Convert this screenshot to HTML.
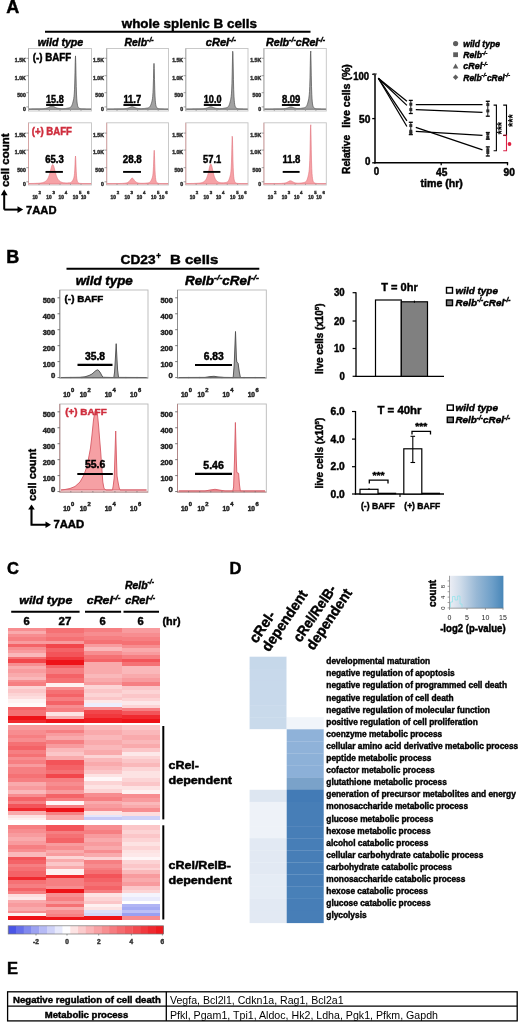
<!DOCTYPE html>
<html><head><meta charset="utf-8"><style>
html,body{margin:0;padding:0;background:#fff;}
svg{display:block;filter:blur(0.3px);font-family:"Liberation Sans", sans-serif;}
</style></head><body>
<svg width="520" height="1022" viewBox="0 0 520 1022">
<text x="6.3" y="12.9" font-size="18" fill="#000" font-weight="bold" stroke="#000" stroke-width="0.45" >A</text>
<text x="121.7" y="27.7" font-size="13.5" fill="#000" font-weight="bold" textLength="135.2" lengthAdjust="spacingAndGlyphs" stroke="#000" stroke-width="0.45" >whole splenic B cells</text>
<line x1="45" y1="31.7" x2="310.5" y2="31.7" stroke="#000" stroke-width="2" />
<text x="37.8" y="45.5" font-size="10.5" font-weight="bold" font-style="italic" stroke="#000" stroke-width="0.45" textLength="45.5" lengthAdjust="spacingAndGlyphs"><tspan>wild type</tspan></text>
<text x="124.6" y="46" font-size="10.5" font-weight="bold" font-style="italic" stroke="#000" stroke-width="0.45" textLength="29" lengthAdjust="spacingAndGlyphs"><tspan>Relb</tspan><tspan font-size="6.93" dy="-3.78">-/-</tspan></text>
<text x="205.8" y="46" font-size="10.5" font-weight="bold" font-style="italic" stroke="#000" stroke-width="0.45" textLength="30.2" lengthAdjust="spacingAndGlyphs"><tspan>cRel</tspan><tspan font-size="6.93" dy="-3.78">-/-</tspan></text>
<text x="266" y="46" font-size="10.5" font-weight="bold" font-style="italic" stroke="#000" stroke-width="0.45" textLength="59" lengthAdjust="spacingAndGlyphs"><tspan>Relb</tspan><tspan font-size="6.93" dy="-3.78">-/-</tspan><tspan dy="3.78">cRel</tspan><tspan font-size="6.93" dy="-3.78">-/-</tspan></text>
<rect x="28.5" y="48.5" width="63.0" height="62.5" fill="#fff" stroke="#c4c4c4" stroke-width="0.9" />
<path d="M29.00,109.30 L29.00,108.88 L29.25,108.88 L29.50,108.88 L29.75,108.88 L30.00,108.88 L30.25,108.88 L30.50,108.88 L30.75,108.88 L31.00,108.88 L31.25,108.88 L31.50,108.88 L31.75,108.87 L32.00,108.87 L32.25,108.87 L32.50,108.87 L32.75,108.87 L33.00,108.87 L33.25,108.87 L33.50,108.87 L33.75,108.87 L34.00,108.86 L34.25,108.86 L34.50,108.86 L34.75,108.86 L35.00,108.86 L35.25,108.86 L35.50,108.85 L35.75,108.85 L36.00,108.85 L36.25,108.85 L36.50,108.85 L36.75,108.84 L37.00,108.84 L37.25,108.84 L37.50,108.84 L37.75,108.83 L38.00,108.83 L38.25,108.82 L38.50,108.82 L38.75,108.82 L39.00,108.81 L39.25,108.81 L39.50,108.80 L39.75,108.80 L40.00,108.79 L40.25,108.79 L40.50,108.78 L40.75,108.77 L41.00,108.76 L41.25,108.76 L41.50,108.75 L41.75,108.74 L42.00,108.73 L42.25,108.71 L42.50,108.70 L42.75,108.69 L43.00,108.67 L43.25,108.66 L43.50,108.64 L43.75,108.62 L44.00,108.60 L44.25,108.58 L44.50,108.55 L44.75,108.52 L45.00,108.49 L45.25,108.46 L45.50,108.42 L45.75,108.38 L46.00,108.33 L46.25,108.28 L46.50,108.23 L46.75,108.17 L47.00,108.10 L47.25,108.03 L47.50,107.95 L47.75,107.86 L48.00,107.76 L48.25,107.65 L48.50,107.54 L48.75,107.42 L49.00,107.28 L49.25,107.14 L49.50,107.00 L49.75,106.84 L50.00,106.69 L50.25,106.54 L50.50,106.39 L50.75,106.26 L51.00,106.14 L51.25,106.04 L51.50,105.96 L51.75,105.91 L52.00,105.90 L52.25,105.91 L52.50,105.96 L52.75,106.04 L53.00,106.14 L53.25,106.26 L53.50,106.39 L53.75,106.54 L54.00,106.69 L54.25,106.84 L54.50,106.99 L54.75,107.14 L55.00,107.28 L55.25,107.41 L55.50,107.54 L55.75,107.65 L56.00,107.76 L56.25,107.86 L56.50,107.94 L56.75,108.02 L57.00,108.10 L57.25,108.16 L57.50,108.22 L57.75,108.28 L58.00,108.33 L58.25,108.37 L58.50,108.41 L58.75,108.45 L59.00,108.48 L59.25,108.51 L59.50,108.53 L59.75,108.56 L60.00,108.58 L60.25,108.59 L60.50,108.61 L60.75,108.62 L61.00,108.63 L61.25,108.64 L61.50,108.65 L61.75,108.65 L62.00,108.65 L62.25,108.65 L62.50,108.65 L62.75,108.65 L63.00,108.64 L63.25,108.63 L63.50,108.62 L63.75,108.61 L64.00,108.59 L64.25,108.58 L64.50,108.56 L64.75,108.53 L65.00,108.51 L65.25,108.48 L65.50,108.45 L65.75,108.42 L66.00,108.39 L66.25,108.35 L66.50,108.32 L66.75,108.28 L67.00,108.24 L67.25,108.20 L67.50,108.16 L67.75,108.11 L68.00,108.07 L68.25,108.02 L68.50,107.98 L68.75,107.93 L69.00,107.88 L69.25,107.82 L69.50,107.75 L69.75,107.67 L70.00,107.57 L70.25,107.44 L70.50,107.28 L70.75,107.07 L71.00,106.81 L71.25,106.48 L71.50,106.08 L71.75,105.60 L72.00,105.03 L72.25,104.38 L72.50,103.65 L72.75,102.85 L73.00,101.96 L73.25,100.98 L73.50,99.86 L73.75,98.51 L74.00,96.70 L74.25,94.04 L74.50,89.83 L74.75,83.00 L75.00,72.77 L75.25,61.21 L75.50,55.90 L75.75,62.43 L76.00,75.14 L76.25,86.39 L76.50,94.06 L76.75,98.91 L77.00,101.97 L77.25,103.97 L77.50,105.31 L77.75,106.24 L78.00,106.89 L78.25,107.36 L78.50,107.71 L78.75,107.96 L79.00,108.15 L79.25,108.29 L79.50,108.40 L79.75,108.48 L80.00,108.55 L80.25,108.60 L80.50,108.65 L80.75,108.68 L81.00,108.71 L81.25,108.73 L81.50,108.76 L81.75,108.77 L82.00,108.79 L82.25,108.80 L82.50,108.81 L82.75,108.82 L83.00,108.83 L83.25,108.84 L83.50,108.85 L83.75,108.85 L84.00,108.86 L84.25,108.86 L84.50,108.86 L84.75,108.87 L85.00,108.87 L85.25,108.87 L85.50,108.87 L85.75,108.88 L86.00,108.88 L86.25,108.88 L86.50,108.88 L86.75,108.88 L87.00,108.88 L87.25,108.88 L87.50,108.88 L87.75,108.89 L88.00,108.89 L88.25,108.89 L88.50,108.89 L88.75,108.89 L89.00,108.89 L89.25,108.89 L89.50,108.89 L89.75,108.89 L90.00,108.89 L90.25,108.89 L90.50,108.89 L90.75,108.89 L91.00,108.89 L91.00,109.30 Z" fill="#a2a2a2" stroke="#555" stroke-width="0.75"/>
<line x1="28.5" y1="48.5" x2="28.5" y2="111" stroke="#a8a8a8" stroke-width="0.9" />
<line x1="39.0" y1="109.8" x2="39.0" y2="111" stroke="#888" stroke-width="0.6" />
<line x1="49.5" y1="109.8" x2="49.5" y2="111" stroke="#888" stroke-width="0.6" />
<line x1="60.0" y1="109.8" x2="60.0" y2="111" stroke="#888" stroke-width="0.6" />
<line x1="70.5" y1="109.8" x2="70.5" y2="111" stroke="#888" stroke-width="0.6" />
<line x1="81.0" y1="109.8" x2="81.0" y2="111" stroke="#888" stroke-width="0.6" />
<line x1="26.3" y1="58.300000000000004" x2="28.5" y2="58.300000000000004" stroke="#777" stroke-width="0.7" />
<text x="25.8" y="62.1" font-size="5.2" fill="#333" font-weight="bold" text-anchor="end" stroke="#333" stroke-width="0.45" >1.5K</text>
<line x1="26.3" y1="75.69999999999999" x2="28.5" y2="75.69999999999999" stroke="#777" stroke-width="0.7" />
<text x="25.8" y="79.5" font-size="5.2" fill="#333" font-weight="bold" text-anchor="end" stroke="#333" stroke-width="0.45" >1.0K</text>
<line x1="26.3" y1="92.69999999999999" x2="28.5" y2="92.69999999999999" stroke="#777" stroke-width="0.7" />
<text x="25.8" y="96.5" font-size="5.2" fill="#333" font-weight="bold" text-anchor="end" stroke="#333" stroke-width="0.45" >500</text>
<line x1="26.3" y1="106.89999999999999" x2="28.5" y2="106.89999999999999" stroke="#777" stroke-width="0.7" />
<text x="25.8" y="110.7" font-size="5.2" fill="#333" font-weight="bold" text-anchor="end" stroke="#333" stroke-width="0.45" >0</text>
<text x="46.1" y="102.5" font-size="10.2" fill="#000" font-weight="bold" textLength="17.6" lengthAdjust="spacingAndGlyphs" stroke="#000" stroke-width="0.45" >15.8</text>
<line x1="46.1" y1="105" x2="63.2" y2="105" stroke="#000" stroke-width="1.9" />
<rect x="28.5" y="122.8" width="63.0" height="62.2" fill="#fff" stroke="#c4c4c4" stroke-width="0.9" />
<path d="M29.00,184.00 L29.00,183.51 L29.25,183.50 L29.50,183.50 L29.75,183.50 L30.00,183.49 L30.25,183.49 L30.50,183.49 L30.75,183.48 L31.00,183.48 L31.25,183.48 L31.50,183.47 L31.75,183.47 L32.00,183.46 L32.25,183.46 L32.50,183.45 L32.75,183.45 L33.00,183.44 L33.25,183.44 L33.50,183.43 L33.75,183.42 L34.00,183.42 L34.25,183.41 L34.50,183.40 L34.75,183.39 L35.00,183.38 L35.25,183.38 L35.50,183.37 L35.75,183.36 L36.00,183.35 L36.25,183.33 L36.50,183.32 L36.75,183.31 L37.00,183.30 L37.25,183.28 L37.50,183.27 L37.75,183.25 L38.00,183.24 L38.25,183.22 L38.50,183.20 L38.75,183.18 L39.00,183.16 L39.25,183.14 L39.50,183.11 L39.75,183.08 L40.00,183.06 L40.25,183.03 L40.50,182.99 L40.75,182.96 L41.00,182.92 L41.25,182.88 L41.50,182.84 L41.75,182.79 L42.00,182.74 L42.25,182.69 L42.50,182.63 L42.75,182.56 L43.00,182.49 L43.25,182.42 L43.50,182.33 L43.75,182.24 L44.00,182.15 L44.25,182.04 L44.50,181.92 L44.75,181.79 L45.00,181.65 L45.25,181.49 L45.50,181.32 L45.75,181.13 L46.00,180.93 L46.25,180.70 L46.50,180.44 L46.75,180.16 L47.00,179.85 L47.25,179.51 L47.50,179.13 L47.75,178.71 L48.00,178.25 L48.25,177.74 L48.50,177.17 L48.75,176.55 L49.00,175.88 L49.25,175.14 L49.50,174.34 L49.75,173.49 L50.00,172.58 L50.25,171.63 L50.50,170.64 L50.75,169.64 L51.00,168.66 L51.25,167.70 L51.50,166.82 L51.75,166.05 L52.00,165.41 L52.25,164.94 L52.50,164.67 L52.75,164.60 L53.00,164.75 L53.25,165.11 L53.50,165.64 L53.75,166.34 L54.00,167.16 L54.25,168.08 L54.50,169.05 L54.75,170.04 L55.00,171.04 L55.25,172.01 L55.50,172.95 L55.75,173.84 L56.00,174.67 L56.25,175.44 L56.50,176.15 L56.75,176.81 L57.00,177.40 L57.25,177.94 L57.50,178.44 L57.75,178.88 L58.00,179.28 L58.25,179.65 L58.50,179.98 L58.75,180.27 L59.00,180.54 L59.25,180.78 L59.50,181.00 L59.75,181.20 L60.00,181.38 L60.25,181.55 L60.50,181.69 L60.75,181.83 L61.00,181.95 L61.25,182.06 L61.50,182.16 L61.75,182.25 L62.00,182.33 L62.25,182.41 L62.50,182.47 L62.75,182.53 L63.00,182.59 L63.25,182.64 L63.50,182.68 L63.75,182.72 L64.00,182.75 L64.25,182.78 L64.50,182.81 L64.75,182.83 L65.00,182.85 L65.25,182.86 L65.50,182.88 L65.75,182.89 L66.00,182.89 L66.25,182.90 L66.50,182.90 L66.75,182.90 L67.00,182.90 L67.25,182.89 L67.50,182.89 L67.75,182.88 L68.00,182.87 L68.25,182.86 L68.50,182.85 L68.75,182.83 L69.00,182.82 L69.25,182.80 L69.50,182.77 L69.75,182.74 L70.00,182.70 L70.25,182.64 L70.50,182.56 L70.75,182.47 L71.00,182.34 L71.25,182.17 L71.50,181.97 L71.75,181.73 L72.00,181.44 L72.25,181.11 L72.50,180.73 L72.75,180.32 L73.00,179.87 L73.25,179.36 L73.50,178.79 L73.75,178.09 L74.00,177.15 L74.25,175.78 L74.50,173.60 L74.75,170.06 L75.00,164.75 L75.25,158.76 L75.50,156.00 L75.75,159.40 L76.00,165.99 L76.25,171.83 L76.50,175.82 L76.75,178.33 L77.00,179.93 L77.25,180.96 L77.50,181.66 L77.75,182.15 L78.00,182.49 L78.25,182.73 L78.50,182.91 L78.75,183.05 L79.00,183.15 L79.25,183.22 L79.50,183.28 L79.75,183.33 L80.00,183.36 L80.25,183.39 L80.50,183.41 L80.75,183.43 L81.00,183.45 L81.25,183.46 L81.50,183.48 L81.75,183.49 L82.00,183.50 L82.25,183.50 L82.50,183.51 L82.75,183.52 L83.00,183.52 L83.25,183.53 L83.50,183.53 L83.75,183.54 L84.00,183.54 L84.25,183.54 L84.50,183.55 L84.75,183.55 L85.00,183.55 L85.25,183.55 L85.50,183.55 L85.75,183.56 L86.00,183.56 L86.25,183.56 L86.50,183.56 L86.75,183.56 L87.00,183.56 L87.25,183.56 L87.50,183.56 L87.75,183.57 L88.00,183.57 L88.25,183.57 L88.50,183.57 L88.75,183.57 L89.00,183.57 L89.25,183.57 L89.50,183.57 L89.75,183.57 L90.00,183.57 L90.25,183.57 L90.50,183.57 L90.75,183.57 L91.00,183.58 L91.00,184.00 Z" fill="#f6a2a6" stroke="#e0707a" stroke-width="0.6"/>
<line x1="28.5" y1="122.8" x2="28.5" y2="185" stroke="#d8a0a0" stroke-width="0.9" />
<line x1="39.0" y1="183.8" x2="39.0" y2="185" stroke="#888" stroke-width="0.6" />
<line x1="49.5" y1="183.8" x2="49.5" y2="185" stroke="#888" stroke-width="0.6" />
<line x1="60.0" y1="183.8" x2="60.0" y2="185" stroke="#888" stroke-width="0.6" />
<line x1="70.5" y1="183.8" x2="70.5" y2="185" stroke="#888" stroke-width="0.6" />
<line x1="81.0" y1="183.8" x2="81.0" y2="185" stroke="#888" stroke-width="0.6" />
<line x1="26.3" y1="133.1" x2="28.5" y2="133.1" stroke="#777" stroke-width="0.7" />
<text x="25.8" y="136.9" font-size="5.2" fill="#333" font-weight="bold" text-anchor="end" stroke="#333" stroke-width="0.45" >1.5K</text>
<line x1="26.3" y1="150.1" x2="28.5" y2="150.1" stroke="#777" stroke-width="0.7" />
<text x="25.8" y="153.9" font-size="5.2" fill="#333" font-weight="bold" text-anchor="end" stroke="#333" stroke-width="0.45" >1.0K</text>
<line x1="26.3" y1="167.7" x2="28.5" y2="167.7" stroke="#777" stroke-width="0.7" />
<text x="25.8" y="171.5" font-size="5.2" fill="#333" font-weight="bold" text-anchor="end" stroke="#333" stroke-width="0.45" >500</text>
<line x1="26.3" y1="181.79999999999998" x2="28.5" y2="181.79999999999998" stroke="#777" stroke-width="0.7" />
<text x="25.8" y="185.6" font-size="5.2" fill="#333" font-weight="bold" text-anchor="end" stroke="#333" stroke-width="0.45" >0</text>
<text x="45.2" y="163" font-size="10.2" fill="#000" font-weight="bold" textLength="18.5" lengthAdjust="spacingAndGlyphs" stroke="#000" stroke-width="0.45" >65.3</text>
<line x1="45.5" y1="171.9" x2="62.900000000000006" y2="171.9" stroke="#000" stroke-width="1.9" />
<text x="32.4" y="198.5" font-size="5.2" fill="#333" font-weight="bold" textLength="5.4" lengthAdjust="spacingAndGlyphs" stroke="#333" stroke-width="0.45" >10</text>
<text x="38.5" y="193.9" font-size="4.4" fill="#333" font-weight="bold" stroke="#333" stroke-width="0.45" >2</text>
<text x="46.3" y="198.5" font-size="5.2" fill="#333" font-weight="bold" textLength="5.4" lengthAdjust="spacingAndGlyphs" stroke="#333" stroke-width="0.45" >10</text>
<text x="52.4" y="193.9" font-size="4.4" fill="#333" font-weight="bold" stroke="#333" stroke-width="0.45" >3</text>
<text x="58.6" y="198.5" font-size="5.2" fill="#333" font-weight="bold" textLength="5.4" lengthAdjust="spacingAndGlyphs" stroke="#333" stroke-width="0.45" >10</text>
<text x="64.7" y="193.9" font-size="4.4" fill="#333" font-weight="bold" stroke="#333" stroke-width="0.45" >4</text>
<text x="72.8" y="198.5" font-size="5.2" fill="#333" font-weight="bold" textLength="5.4" lengthAdjust="spacingAndGlyphs" stroke="#333" stroke-width="0.45" >10</text>
<text x="78.89999999999999" y="193.9" font-size="4.4" fill="#333" font-weight="bold" stroke="#333" stroke-width="0.45" >5</text>
<text x="80.9" y="198.5" font-size="5.2" fill="#333" font-weight="bold" textLength="5.4" lengthAdjust="spacingAndGlyphs" stroke="#333" stroke-width="0.45" >10</text>
<text x="87.0" y="193.9" font-size="4.4" fill="#333" font-weight="bold" stroke="#333" stroke-width="0.45" >6</text>
<rect x="106.7" y="48.5" width="61.8" height="62.5" fill="#fff" stroke="#c4c4c4" stroke-width="0.9" />
<path d="M107.20,109.30 L107.20,108.89 L107.45,108.89 L107.70,108.89 L107.95,108.89 L108.20,108.89 L108.45,108.89 L108.70,108.89 L108.95,108.89 L109.20,108.89 L109.45,108.89 L109.70,108.89 L109.95,108.89 L110.20,108.89 L110.45,108.88 L110.70,108.88 L110.95,108.88 L111.20,108.88 L111.45,108.88 L111.70,108.88 L111.95,108.88 L112.20,108.88 L112.45,108.88 L112.70,108.88 L112.95,108.88 L113.20,108.88 L113.46,108.88 L113.71,108.88 L113.96,108.87 L114.21,108.87 L114.46,108.87 L114.71,108.87 L114.96,108.87 L115.21,108.87 L115.46,108.87 L115.71,108.87 L115.96,108.87 L116.21,108.86 L116.46,108.86 L116.71,108.86 L116.96,108.86 L117.21,108.86 L117.46,108.85 L117.71,108.85 L117.96,108.85 L118.21,108.85 L118.46,108.84 L118.71,108.84 L118.96,108.84 L119.21,108.84 L119.46,108.83 L119.71,108.83 L119.96,108.82 L120.21,108.82 L120.46,108.82 L120.71,108.81 L120.96,108.81 L121.21,108.80 L121.46,108.79 L121.71,108.79 L121.96,108.78 L122.21,108.77 L122.46,108.76 L122.71,108.75 L122.96,108.74 L123.21,108.73 L123.46,108.72 L123.71,108.71 L123.96,108.69 L124.21,108.68 L124.46,108.66 L124.71,108.64 L124.96,108.62 L125.21,108.60 L125.47,108.57 L125.72,108.55 L125.97,108.52 L126.22,108.48 L126.47,108.45 L126.72,108.40 L126.97,108.36 L127.22,108.31 L127.47,108.26 L127.72,108.20 L127.97,108.13 L128.22,108.06 L128.47,107.98 L128.72,107.90 L128.97,107.80 L129.22,107.71 L129.47,107.60 L129.72,107.50 L129.97,107.38 L130.22,107.27 L130.47,107.16 L130.72,107.05 L130.97,106.95 L131.22,106.87 L131.47,106.79 L131.72,106.74 L131.97,106.71 L132.22,106.70 L132.47,106.71 L132.72,106.75 L132.97,106.81 L133.22,106.88 L133.47,106.97 L133.72,107.07 L133.97,107.18 L134.22,107.29 L134.47,107.40 L134.72,107.51 L134.97,107.62 L135.22,107.72 L135.47,107.82 L135.72,107.91 L135.97,107.99 L136.22,108.07 L136.47,108.14 L136.72,108.20 L136.97,108.26 L137.22,108.31 L137.47,108.36 L137.73,108.40 L137.98,108.44 L138.23,108.47 L138.48,108.50 L138.73,108.53 L138.98,108.55 L139.23,108.57 L139.48,108.59 L139.73,108.61 L139.98,108.62 L140.23,108.63 L140.48,108.64 L140.73,108.64 L140.98,108.64 L141.23,108.64 L141.48,108.64 L141.73,108.64 L141.98,108.63 L142.23,108.62 L142.48,108.61 L142.73,108.60 L142.98,108.59 L143.23,108.57 L143.48,108.55 L143.73,108.53 L143.98,108.50 L144.23,108.48 L144.48,108.45 L144.73,108.42 L144.98,108.39 L145.23,108.36 L145.48,108.33 L145.73,108.29 L145.98,108.26 L146.23,108.22 L146.48,108.18 L146.73,108.14 L146.98,108.10 L147.23,108.06 L147.48,108.02 L147.73,107.97 L147.98,107.91 L148.23,107.84 L148.48,107.76 L148.73,107.65 L148.98,107.52 L149.23,107.34 L149.48,107.12 L149.73,106.84 L149.99,106.50 L150.24,106.09 L150.49,105.61 L150.74,105.05 L150.99,104.43 L151.24,103.74 L151.49,102.98 L151.74,102.15 L151.99,101.20 L152.24,100.04 L152.49,98.52 L152.74,96.28 L152.99,92.75 L153.24,87.02 L153.49,78.36 L153.74,68.37 L153.99,63.38 L154.24,68.57 L154.49,79.43 L154.74,89.22 L154.99,95.93 L155.24,100.18 L155.49,102.87 L155.74,104.61 L155.99,105.78 L156.24,106.59 L156.49,107.16 L156.74,107.57 L156.99,107.87 L157.24,108.09 L157.49,108.25 L157.74,108.37 L157.99,108.47 L158.24,108.54 L158.49,108.60 L158.74,108.64 L158.99,108.68 L159.24,108.71 L159.49,108.74 L159.74,108.76 L159.99,108.78 L160.24,108.79 L160.49,108.80 L160.74,108.82 L160.99,108.83 L161.24,108.83 L161.49,108.84 L161.74,108.85 L162.00,108.85 L162.25,108.86 L162.50,108.86 L162.75,108.87 L163.00,108.87 L163.25,108.87 L163.50,108.87 L163.75,108.88 L164.00,108.88 L164.25,108.88 L164.50,108.88 L164.75,108.88 L165.00,108.88 L165.25,108.88 L165.50,108.89 L165.75,108.89 L166.00,108.89 L166.25,108.89 L166.50,108.89 L166.75,108.89 L167.00,108.89 L167.25,108.89 L167.50,108.89 L167.75,108.89 L168.00,108.89 L168.00,109.30 Z" fill="#a2a2a2" stroke="#555" stroke-width="0.75"/>
<line x1="106.7" y1="48.5" x2="106.7" y2="111" stroke="#a8a8a8" stroke-width="0.9" />
<line x1="117.0" y1="109.8" x2="117.0" y2="111" stroke="#888" stroke-width="0.6" />
<line x1="127.3" y1="109.8" x2="127.3" y2="111" stroke="#888" stroke-width="0.6" />
<line x1="137.6" y1="109.8" x2="137.6" y2="111" stroke="#888" stroke-width="0.6" />
<line x1="147.9" y1="109.8" x2="147.9" y2="111" stroke="#888" stroke-width="0.6" />
<line x1="158.2" y1="109.8" x2="158.2" y2="111" stroke="#888" stroke-width="0.6" />
<line x1="104.5" y1="58.300000000000004" x2="106.7" y2="58.300000000000004" stroke="#777" stroke-width="0.7" />
<text x="104.0" y="62.1" font-size="5.2" fill="#333" font-weight="bold" text-anchor="end" stroke="#333" stroke-width="0.45" >1.5K</text>
<line x1="104.5" y1="75.69999999999999" x2="106.7" y2="75.69999999999999" stroke="#777" stroke-width="0.7" />
<text x="104.0" y="79.5" font-size="5.2" fill="#333" font-weight="bold" text-anchor="end" stroke="#333" stroke-width="0.45" >1.0K</text>
<line x1="104.5" y1="92.69999999999999" x2="106.7" y2="92.69999999999999" stroke="#777" stroke-width="0.7" />
<text x="104.0" y="96.5" font-size="5.2" fill="#333" font-weight="bold" text-anchor="end" stroke="#333" stroke-width="0.45" >500</text>
<line x1="104.5" y1="106.89999999999999" x2="106.7" y2="106.89999999999999" stroke="#777" stroke-width="0.7" />
<text x="104.0" y="110.7" font-size="5.2" fill="#333" font-weight="bold" text-anchor="end" stroke="#333" stroke-width="0.45" >0</text>
<text x="123.4" y="102.5" font-size="10.2" fill="#000" font-weight="bold" textLength="17.799999999999983" lengthAdjust="spacingAndGlyphs" stroke="#000" stroke-width="0.45" >11.7</text>
<line x1="123.4" y1="105" x2="140.7" y2="105" stroke="#000" stroke-width="1.9" />
<rect x="106.7" y="122.8" width="61.8" height="62.2" fill="#fff" stroke="#c4c4c4" stroke-width="0.9" />
<path d="M107.20,184.00 L107.20,183.59 L107.45,183.59 L107.70,183.59 L107.95,183.59 L108.20,183.59 L108.45,183.58 L108.70,183.58 L108.95,183.58 L109.20,183.58 L109.45,183.58 L109.70,183.58 L109.95,183.58 L110.20,183.58 L110.45,183.58 L110.70,183.58 L110.95,183.58 L111.20,183.58 L111.45,183.58 L111.70,183.58 L111.95,183.58 L112.20,183.57 L112.45,183.57 L112.70,183.57 L112.95,183.57 L113.20,183.57 L113.46,183.57 L113.71,183.57 L113.96,183.57 L114.21,183.57 L114.46,183.56 L114.71,183.56 L114.96,183.56 L115.21,183.56 L115.46,183.56 L115.71,183.56 L115.96,183.55 L116.21,183.55 L116.46,183.55 L116.71,183.55 L116.96,183.54 L117.21,183.54 L117.46,183.54 L117.71,183.54 L117.96,183.53 L118.21,183.53 L118.46,183.53 L118.71,183.52 L118.96,183.52 L119.21,183.51 L119.46,183.51 L119.71,183.50 L119.96,183.50 L120.21,183.49 L120.46,183.49 L120.71,183.48 L120.96,183.47 L121.21,183.46 L121.46,183.45 L121.71,183.44 L121.96,183.43 L122.21,183.42 L122.46,183.41 L122.71,183.40 L122.96,183.38 L123.21,183.36 L123.46,183.35 L123.71,183.33 L123.96,183.30 L124.21,183.28 L124.46,183.25 L124.71,183.22 L124.96,183.19 L125.21,183.15 L125.47,183.11 L125.72,183.06 L125.97,183.01 L126.22,182.95 L126.47,182.89 L126.72,182.82 L126.97,182.73 L127.22,182.64 L127.47,182.53 L127.72,182.41 L127.97,182.28 L128.22,182.12 L128.47,181.95 L128.72,181.76 L128.97,181.54 L129.22,181.30 L129.47,181.03 L129.72,180.74 L129.97,180.42 L130.22,180.08 L130.47,179.74 L130.72,179.38 L130.97,179.05 L131.22,178.73 L131.47,178.47 L131.72,178.26 L131.97,178.14 L132.22,178.10 L132.47,178.15 L132.72,178.29 L132.97,178.51 L133.22,178.78 L133.47,179.10 L133.72,179.44 L133.97,179.79 L134.22,180.14 L134.47,180.47 L134.72,180.79 L134.97,181.07 L135.22,181.34 L135.47,181.58 L135.72,181.79 L135.97,181.98 L136.22,182.15 L136.47,182.30 L136.72,182.43 L136.97,182.55 L137.22,182.65 L137.47,182.74 L137.73,182.82 L137.98,182.89 L138.23,182.95 L138.48,183.01 L138.73,183.06 L138.98,183.10 L139.23,183.14 L139.48,183.17 L139.73,183.20 L139.98,183.23 L140.23,183.25 L140.48,183.27 L140.73,183.28 L140.98,183.30 L141.23,183.31 L141.48,183.31 L141.73,183.32 L141.98,183.32 L142.23,183.32 L142.48,183.32 L142.73,183.32 L142.98,183.31 L143.23,183.31 L143.48,183.30 L143.73,183.29 L143.98,183.27 L144.23,183.26 L144.48,183.24 L144.73,183.22 L144.98,183.20 L145.23,183.18 L145.48,183.16 L145.73,183.14 L145.98,183.12 L146.23,183.09 L146.48,183.07 L146.73,183.04 L146.98,183.01 L147.23,182.98 L147.48,182.95 L147.73,182.92 L147.98,182.89 L148.23,182.84 L148.48,182.79 L148.73,182.73 L148.98,182.65 L149.23,182.54 L149.48,182.41 L149.73,182.24 L149.99,182.02 L150.24,181.76 L150.49,181.45 L150.74,181.09 L150.99,180.67 L151.24,180.20 L151.49,179.68 L151.74,179.11 L151.99,178.48 L152.24,177.76 L152.49,176.87 L152.74,175.67 L152.99,173.88 L153.24,171.01 L153.49,166.38 L153.74,159.61 L153.99,152.52 L154.24,150.25 L154.49,155.37 L154.74,163.50 L154.99,170.27 L155.24,174.80 L155.49,177.65 L155.74,179.45 L155.99,180.63 L156.24,181.43 L156.49,181.99 L156.74,182.38 L156.99,182.66 L157.24,182.87 L157.49,183.02 L157.74,183.14 L157.99,183.22 L158.24,183.29 L158.49,183.34 L158.74,183.38 L158.99,183.41 L159.24,183.44 L159.49,183.46 L159.74,183.48 L159.99,183.49 L160.24,183.51 L160.49,183.52 L160.74,183.53 L160.99,183.54 L161.24,183.54 L161.49,183.55 L161.74,183.55 L162.00,183.56 L162.25,183.56 L162.50,183.57 L162.75,183.57 L163.00,183.57 L163.25,183.57 L163.50,183.58 L163.75,183.58 L164.00,183.58 L164.25,183.58 L164.50,183.58 L164.75,183.58 L165.00,183.58 L165.25,183.59 L165.50,183.59 L165.75,183.59 L166.00,183.59 L166.25,183.59 L166.50,183.59 L166.75,183.59 L167.00,183.59 L167.25,183.59 L167.50,183.59 L167.75,183.59 L168.00,183.59 L168.00,184.00 Z" fill="#f6a2a6" stroke="#e0707a" stroke-width="0.6"/>
<line x1="106.7" y1="122.8" x2="106.7" y2="185" stroke="#d8a0a0" stroke-width="0.9" />
<line x1="117.0" y1="183.8" x2="117.0" y2="185" stroke="#888" stroke-width="0.6" />
<line x1="127.3" y1="183.8" x2="127.3" y2="185" stroke="#888" stroke-width="0.6" />
<line x1="137.6" y1="183.8" x2="137.6" y2="185" stroke="#888" stroke-width="0.6" />
<line x1="147.9" y1="183.8" x2="147.9" y2="185" stroke="#888" stroke-width="0.6" />
<line x1="158.2" y1="183.8" x2="158.2" y2="185" stroke="#888" stroke-width="0.6" />
<line x1="104.5" y1="133.1" x2="106.7" y2="133.1" stroke="#777" stroke-width="0.7" />
<text x="104.0" y="136.9" font-size="5.2" fill="#333" font-weight="bold" text-anchor="end" stroke="#333" stroke-width="0.45" >1.5K</text>
<line x1="104.5" y1="150.1" x2="106.7" y2="150.1" stroke="#777" stroke-width="0.7" />
<text x="104.0" y="153.9" font-size="5.2" fill="#333" font-weight="bold" text-anchor="end" stroke="#333" stroke-width="0.45" >1.0K</text>
<line x1="104.5" y1="167.7" x2="106.7" y2="167.7" stroke="#777" stroke-width="0.7" />
<text x="104.0" y="171.5" font-size="5.2" fill="#333" font-weight="bold" text-anchor="end" stroke="#333" stroke-width="0.45" >500</text>
<line x1="104.5" y1="181.79999999999998" x2="106.7" y2="181.79999999999998" stroke="#777" stroke-width="0.7" />
<text x="104.0" y="185.6" font-size="5.2" fill="#333" font-weight="bold" text-anchor="end" stroke="#333" stroke-width="0.45" >0</text>
<text x="122.8" y="163" font-size="10.2" fill="#000" font-weight="bold" textLength="19.000000000000014" lengthAdjust="spacingAndGlyphs" stroke="#000" stroke-width="0.45" >28.8</text>
<line x1="123.1" y1="171.9" x2="141.0" y2="171.9" stroke="#000" stroke-width="1.9" />
<text x="110.60000000000001" y="198.5" font-size="5.2" fill="#333" font-weight="bold" textLength="5.4" lengthAdjust="spacingAndGlyphs" stroke="#333" stroke-width="0.45" >10</text>
<text x="116.7" y="193.9" font-size="4.4" fill="#333" font-weight="bold" stroke="#333" stroke-width="0.45" >2</text>
<text x="124.5" y="198.5" font-size="5.2" fill="#333" font-weight="bold" textLength="5.4" lengthAdjust="spacingAndGlyphs" stroke="#333" stroke-width="0.45" >10</text>
<text x="130.6" y="193.9" font-size="4.4" fill="#333" font-weight="bold" stroke="#333" stroke-width="0.45" >3</text>
<text x="136.8" y="198.5" font-size="5.2" fill="#333" font-weight="bold" textLength="5.4" lengthAdjust="spacingAndGlyphs" stroke="#333" stroke-width="0.45" >10</text>
<text x="142.9" y="193.9" font-size="4.4" fill="#333" font-weight="bold" stroke="#333" stroke-width="0.45" >4</text>
<text x="151.0" y="198.5" font-size="5.2" fill="#333" font-weight="bold" textLength="5.4" lengthAdjust="spacingAndGlyphs" stroke="#333" stroke-width="0.45" >10</text>
<text x="157.1" y="193.9" font-size="4.4" fill="#333" font-weight="bold" stroke="#333" stroke-width="0.45" >5</text>
<text x="159.1" y="198.5" font-size="5.2" fill="#333" font-weight="bold" textLength="5.4" lengthAdjust="spacingAndGlyphs" stroke="#333" stroke-width="0.45" >10</text>
<text x="165.2" y="193.9" font-size="4.4" fill="#333" font-weight="bold" stroke="#333" stroke-width="0.45" >6</text>
<rect x="185.8" y="48.5" width="62.19999999999999" height="62.5" fill="#fff" stroke="#c4c4c4" stroke-width="0.9" />
<path d="M186.30,109.30 L186.30,108.89 L186.55,108.89 L186.80,108.89 L187.05,108.89 L187.30,108.89 L187.55,108.89 L187.80,108.89 L188.06,108.89 L188.31,108.89 L188.56,108.89 L188.81,108.89 L189.06,108.88 L189.31,108.88 L189.56,108.88 L189.81,108.88 L190.06,108.88 L190.31,108.88 L190.56,108.88 L190.81,108.88 L191.07,108.88 L191.32,108.88 L191.57,108.88 L191.82,108.88 L192.07,108.88 L192.32,108.88 L192.57,108.87 L192.82,108.87 L193.07,108.87 L193.32,108.87 L193.57,108.87 L193.82,108.87 L194.08,108.87 L194.33,108.87 L194.58,108.87 L194.83,108.86 L195.08,108.86 L195.33,108.86 L195.58,108.86 L195.83,108.86 L196.08,108.85 L196.33,108.85 L196.58,108.85 L196.83,108.85 L197.09,108.84 L197.34,108.84 L197.59,108.84 L197.84,108.84 L198.09,108.83 L198.34,108.83 L198.59,108.82 L198.84,108.82 L199.09,108.81 L199.34,108.81 L199.59,108.80 L199.84,108.80 L200.10,108.79 L200.35,108.79 L200.60,108.78 L200.85,108.77 L201.10,108.76 L201.35,108.75 L201.60,108.74 L201.85,108.73 L202.10,108.72 L202.35,108.71 L202.60,108.69 L202.85,108.67 L203.10,108.66 L203.36,108.64 L203.61,108.62 L203.86,108.59 L204.11,108.57 L204.36,108.54 L204.61,108.51 L204.86,108.48 L205.11,108.44 L205.36,108.40 L205.61,108.35 L205.86,108.30 L206.11,108.24 L206.37,108.18 L206.62,108.12 L206.87,108.04 L207.12,107.96 L207.37,107.88 L207.62,107.78 L207.87,107.69 L208.12,107.58 L208.37,107.47 L208.62,107.36 L208.87,107.25 L209.12,107.14 L209.38,107.03 L209.63,106.93 L209.88,106.85 L210.13,106.78 L210.38,106.73 L210.63,106.70 L210.88,106.70 L211.13,106.72 L211.38,106.76 L211.63,106.82 L211.88,106.90 L212.13,106.99 L212.39,107.10 L212.64,107.21 L212.89,107.32 L213.14,107.43 L213.39,107.54 L213.64,107.65 L213.89,107.75 L214.14,107.84 L214.39,107.93 L214.64,108.01 L214.89,108.09 L215.14,108.15 L215.40,108.22 L215.65,108.27 L215.90,108.32 L216.15,108.37 L216.40,108.41 L216.65,108.45 L216.90,108.48 L217.15,108.51 L217.40,108.53 L217.65,108.56 L217.90,108.58 L218.15,108.59 L218.40,108.60 L218.66,108.62 L218.91,108.62 L219.16,108.63 L219.41,108.63 L219.66,108.63 L219.91,108.63 L220.16,108.62 L220.41,108.62 L220.66,108.61 L220.91,108.59 L221.16,108.58 L221.41,108.56 L221.67,108.54 L221.92,108.52 L222.17,108.49 L222.42,108.46 L222.67,108.43 L222.92,108.40 L223.17,108.36 L223.42,108.32 L223.67,108.29 L223.92,108.24 L224.17,108.20 L224.42,108.15 L224.68,108.11 L224.93,108.06 L225.18,108.01 L225.43,107.96 L225.68,107.91 L225.93,107.86 L226.18,107.80 L226.43,107.74 L226.68,107.67 L226.93,107.59 L227.18,107.49 L227.43,107.37 L227.69,107.21 L227.94,107.00 L228.19,106.74 L228.44,106.41 L228.69,106.00 L228.94,105.51 L229.19,104.92 L229.44,104.24 L229.69,103.47 L229.94,102.61 L230.19,101.67 L230.44,100.63 L230.70,99.47 L230.95,98.10 L231.20,96.34 L231.45,93.86 L231.70,90.02 L231.95,83.79 L232.20,73.97 L232.45,61.09 L232.70,51.24 L232.95,53.41 L233.20,66.07 L233.45,79.75 L233.70,89.74 L233.96,96.14 L234.21,100.17 L234.46,102.75 L234.71,104.46 L234.96,105.63 L235.21,106.45 L235.46,107.04 L235.71,107.47 L235.96,107.78 L236.21,108.01 L236.46,108.18 L236.71,108.31 L236.97,108.41 L237.22,108.49 L237.47,108.56 L237.72,108.61 L237.97,108.65 L238.22,108.68 L238.47,108.71 L238.72,108.74 L238.97,108.76 L239.22,108.77 L239.47,108.79 L239.72,108.80 L239.98,108.81 L240.23,108.82 L240.48,108.83 L240.73,108.84 L240.98,108.85 L241.23,108.85 L241.48,108.86 L241.73,108.86 L241.98,108.86 L242.23,108.87 L242.48,108.87 L242.73,108.87 L242.99,108.87 L243.24,108.88 L243.49,108.88 L243.74,108.88 L243.99,108.88 L244.24,108.88 L244.49,108.88 L244.74,108.88 L244.99,108.89 L245.24,108.89 L245.49,108.89 L245.74,108.89 L246.00,108.89 L246.25,108.89 L246.50,108.89 L246.75,108.89 L247.00,108.89 L247.25,108.89 L247.50,108.89 L247.50,109.30 Z" fill="#a2a2a2" stroke="#555" stroke-width="0.75"/>
<line x1="185.8" y1="48.5" x2="185.8" y2="111" stroke="#a8a8a8" stroke-width="0.9" />
<line x1="196.16666666666669" y1="109.8" x2="196.16666666666669" y2="111" stroke="#888" stroke-width="0.6" />
<line x1="206.53333333333333" y1="109.8" x2="206.53333333333333" y2="111" stroke="#888" stroke-width="0.6" />
<line x1="216.9" y1="109.8" x2="216.9" y2="111" stroke="#888" stroke-width="0.6" />
<line x1="227.26666666666668" y1="109.8" x2="227.26666666666668" y2="111" stroke="#888" stroke-width="0.6" />
<line x1="237.63333333333333" y1="109.8" x2="237.63333333333333" y2="111" stroke="#888" stroke-width="0.6" />
<line x1="183.60000000000002" y1="58.300000000000004" x2="185.8" y2="58.300000000000004" stroke="#777" stroke-width="0.7" />
<text x="183.10000000000002" y="62.1" font-size="5.2" fill="#333" font-weight="bold" text-anchor="end" stroke="#333" stroke-width="0.45" >1.5K</text>
<line x1="183.60000000000002" y1="75.69999999999999" x2="185.8" y2="75.69999999999999" stroke="#777" stroke-width="0.7" />
<text x="183.10000000000002" y="79.5" font-size="5.2" fill="#333" font-weight="bold" text-anchor="end" stroke="#333" stroke-width="0.45" >1.0K</text>
<line x1="183.60000000000002" y1="92.69999999999999" x2="185.8" y2="92.69999999999999" stroke="#777" stroke-width="0.7" />
<text x="183.10000000000002" y="96.5" font-size="5.2" fill="#333" font-weight="bold" text-anchor="end" stroke="#333" stroke-width="0.45" >500</text>
<line x1="183.60000000000002" y1="106.89999999999999" x2="185.8" y2="106.89999999999999" stroke="#777" stroke-width="0.7" />
<text x="183.10000000000002" y="110.7" font-size="5.2" fill="#333" font-weight="bold" text-anchor="end" stroke="#333" stroke-width="0.45" >0</text>
<text x="203.8" y="102.5" font-size="10.2" fill="#000" font-weight="bold" textLength="17.69999999999999" lengthAdjust="spacingAndGlyphs" stroke="#000" stroke-width="0.45" >10.0</text>
<line x1="203.8" y1="105" x2="221.0" y2="105" stroke="#000" stroke-width="1.9" />
<rect x="185.8" y="122.8" width="62.19999999999999" height="62.2" fill="#fff" stroke="#c4c4c4" stroke-width="0.9" />
<path d="M186.30,184.00 L186.30,183.54 L186.55,183.54 L186.80,183.54 L187.05,183.53 L187.30,183.53 L187.55,183.53 L187.80,183.53 L188.06,183.53 L188.31,183.52 L188.56,183.52 L188.81,183.52 L189.06,183.51 L189.31,183.51 L189.56,183.51 L189.81,183.51 L190.06,183.50 L190.31,183.50 L190.56,183.50 L190.81,183.49 L191.07,183.49 L191.32,183.48 L191.57,183.48 L191.82,183.47 L192.07,183.47 L192.32,183.46 L192.57,183.46 L192.82,183.45 L193.07,183.45 L193.32,183.44 L193.57,183.43 L193.82,183.43 L194.08,183.42 L194.33,183.41 L194.58,183.40 L194.83,183.39 L195.08,183.38 L195.33,183.37 L195.58,183.36 L195.83,183.35 L196.08,183.34 L196.33,183.33 L196.58,183.31 L196.83,183.30 L197.09,183.28 L197.34,183.26 L197.59,183.25 L197.84,183.23 L198.09,183.21 L198.34,183.18 L198.59,183.16 L198.84,183.13 L199.09,183.10 L199.34,183.07 L199.59,183.04 L199.84,183.01 L200.10,182.97 L200.35,182.93 L200.60,182.88 L200.85,182.83 L201.10,182.78 L201.35,182.72 L201.60,182.66 L201.85,182.59 L202.10,182.51 L202.35,182.42 L202.60,182.33 L202.85,182.23 L203.10,182.12 L203.36,181.99 L203.61,181.85 L203.86,181.70 L204.11,181.53 L204.36,181.33 L204.61,181.12 L204.86,180.88 L205.11,180.62 L205.36,180.32 L205.61,179.98 L205.86,179.61 L206.11,179.19 L206.37,178.72 L206.62,178.19 L206.87,177.60 L207.12,176.94 L207.37,176.20 L207.62,175.39 L207.87,174.50 L208.12,173.53 L208.37,172.49 L208.62,171.38 L208.87,170.23 L209.12,169.07 L209.38,167.92 L209.63,166.84 L209.88,165.87 L210.13,165.08 L210.38,164.49 L210.63,164.16 L210.88,164.11 L211.13,164.34 L211.38,164.84 L211.63,165.56 L211.88,166.48 L212.13,167.52 L212.39,168.65 L212.64,169.81 L212.89,170.97 L213.14,172.09 L213.39,173.16 L213.64,174.16 L213.89,175.08 L214.14,175.92 L214.39,176.68 L214.64,177.36 L214.89,177.98 L215.14,178.53 L215.40,179.02 L215.65,179.45 L215.90,179.84 L216.15,180.19 L216.40,180.50 L216.65,180.77 L216.90,181.02 L217.15,181.24 L217.40,181.43 L217.65,181.61 L217.90,181.76 L218.15,181.90 L218.40,182.02 L218.66,182.13 L218.91,182.23 L219.16,182.31 L219.41,182.39 L219.66,182.46 L219.91,182.52 L220.16,182.57 L220.41,182.61 L220.66,182.65 L220.91,182.68 L221.16,182.70 L221.41,182.72 L221.67,182.73 L221.92,182.74 L222.17,182.75 L222.42,182.75 L222.67,182.74 L222.92,182.74 L223.17,182.72 L223.42,182.71 L223.67,182.69 L223.92,182.67 L224.17,182.65 L224.42,182.63 L224.68,182.60 L224.93,182.58 L225.18,182.55 L225.43,182.52 L225.68,182.48 L225.93,182.44 L226.18,182.39 L226.43,182.34 L226.68,182.26 L226.93,182.17 L227.18,182.04 L227.43,181.88 L227.69,181.68 L227.94,181.41 L228.19,181.09 L228.44,180.69 L228.69,180.21 L228.94,179.66 L229.19,179.03 L229.44,178.33 L229.69,177.56 L229.94,176.72 L230.19,175.77 L230.44,174.65 L230.70,173.21 L230.95,171.19 L231.20,168.05 L231.45,162.95 L231.70,154.92 L231.95,144.36 L232.20,136.24 L232.45,137.95 L232.70,148.31 L232.95,159.55 L233.20,167.77 L233.45,173.04 L233.70,176.35 L233.96,178.48 L234.21,179.89 L234.46,180.85 L234.71,181.53 L234.96,182.02 L235.21,182.37 L235.46,182.63 L235.71,182.82 L235.96,182.96 L236.21,183.07 L236.46,183.16 L236.71,183.22 L236.97,183.27 L237.22,183.32 L237.47,183.35 L237.72,183.38 L237.97,183.41 L238.22,183.43 L238.47,183.45 L238.72,183.46 L238.97,183.48 L239.22,183.49 L239.47,183.50 L239.72,183.51 L239.98,183.51 L240.23,183.52 L240.48,183.53 L240.73,183.53 L240.98,183.54 L241.23,183.54 L241.48,183.54 L241.73,183.55 L241.98,183.55 L242.23,183.55 L242.48,183.56 L242.73,183.56 L242.99,183.56 L243.24,183.56 L243.49,183.56 L243.74,183.56 L243.99,183.57 L244.24,183.57 L244.49,183.57 L244.74,183.57 L244.99,183.57 L245.24,183.57 L245.49,183.57 L245.74,183.57 L246.00,183.57 L246.25,183.57 L246.50,183.58 L246.75,183.58 L247.00,183.58 L247.25,183.58 L247.50,183.58 L247.50,184.00 Z" fill="#f6a2a6" stroke="#e0707a" stroke-width="0.6"/>
<line x1="185.8" y1="122.8" x2="185.8" y2="185" stroke="#d8a0a0" stroke-width="0.9" />
<line x1="196.16666666666669" y1="183.8" x2="196.16666666666669" y2="185" stroke="#888" stroke-width="0.6" />
<line x1="206.53333333333333" y1="183.8" x2="206.53333333333333" y2="185" stroke="#888" stroke-width="0.6" />
<line x1="216.9" y1="183.8" x2="216.9" y2="185" stroke="#888" stroke-width="0.6" />
<line x1="227.26666666666668" y1="183.8" x2="227.26666666666668" y2="185" stroke="#888" stroke-width="0.6" />
<line x1="237.63333333333333" y1="183.8" x2="237.63333333333333" y2="185" stroke="#888" stroke-width="0.6" />
<line x1="183.60000000000002" y1="133.1" x2="185.8" y2="133.1" stroke="#777" stroke-width="0.7" />
<text x="183.10000000000002" y="136.9" font-size="5.2" fill="#333" font-weight="bold" text-anchor="end" stroke="#333" stroke-width="0.45" >1.5K</text>
<line x1="183.60000000000002" y1="150.1" x2="185.8" y2="150.1" stroke="#777" stroke-width="0.7" />
<text x="183.10000000000002" y="153.9" font-size="5.2" fill="#333" font-weight="bold" text-anchor="end" stroke="#333" stroke-width="0.45" >1.0K</text>
<line x1="183.60000000000002" y1="167.7" x2="185.8" y2="167.7" stroke="#777" stroke-width="0.7" />
<text x="183.10000000000002" y="171.5" font-size="5.2" fill="#333" font-weight="bold" text-anchor="end" stroke="#333" stroke-width="0.45" >500</text>
<line x1="183.60000000000002" y1="181.79999999999998" x2="185.8" y2="181.79999999999998" stroke="#777" stroke-width="0.7" />
<text x="183.10000000000002" y="185.6" font-size="5.2" fill="#333" font-weight="bold" text-anchor="end" stroke="#333" stroke-width="0.45" >0</text>
<text x="203" y="163" font-size="10.2" fill="#000" font-weight="bold" textLength="18.19999999999999" lengthAdjust="spacingAndGlyphs" stroke="#000" stroke-width="0.45" >57.1</text>
<line x1="203.3" y1="171.9" x2="220.39999999999998" y2="171.9" stroke="#000" stroke-width="1.9" />
<text x="189.70000000000002" y="198.5" font-size="5.2" fill="#333" font-weight="bold" textLength="5.4" lengthAdjust="spacingAndGlyphs" stroke="#333" stroke-width="0.45" >10</text>
<text x="195.8" y="193.9" font-size="4.4" fill="#333" font-weight="bold" stroke="#333" stroke-width="0.45" >2</text>
<text x="203.60000000000002" y="198.5" font-size="5.2" fill="#333" font-weight="bold" textLength="5.4" lengthAdjust="spacingAndGlyphs" stroke="#333" stroke-width="0.45" >10</text>
<text x="209.70000000000002" y="193.9" font-size="4.4" fill="#333" font-weight="bold" stroke="#333" stroke-width="0.45" >3</text>
<text x="215.9" y="198.5" font-size="5.2" fill="#333" font-weight="bold" textLength="5.4" lengthAdjust="spacingAndGlyphs" stroke="#333" stroke-width="0.45" >10</text>
<text x="222.0" y="193.9" font-size="4.4" fill="#333" font-weight="bold" stroke="#333" stroke-width="0.45" >4</text>
<text x="230.10000000000002" y="198.5" font-size="5.2" fill="#333" font-weight="bold" textLength="5.4" lengthAdjust="spacingAndGlyphs" stroke="#333" stroke-width="0.45" >10</text>
<text x="236.20000000000002" y="193.9" font-size="4.4" fill="#333" font-weight="bold" stroke="#333" stroke-width="0.45" >5</text>
<text x="238.20000000000002" y="198.5" font-size="5.2" fill="#333" font-weight="bold" textLength="5.4" lengthAdjust="spacingAndGlyphs" stroke="#333" stroke-width="0.45" >10</text>
<text x="244.3" y="193.9" font-size="4.4" fill="#333" font-weight="bold" stroke="#333" stroke-width="0.45" >6</text>
<rect x="263.9" y="48.5" width="62.400000000000034" height="62.5" fill="#fff" stroke="#c4c4c4" stroke-width="0.9" />
<path d="M264.40,109.30 L264.40,108.89 L264.65,108.89 L264.90,108.89 L265.15,108.89 L265.40,108.89 L265.65,108.89 L265.90,108.89 L266.15,108.89 L266.40,108.89 L266.66,108.89 L266.91,108.89 L267.16,108.89 L267.41,108.89 L267.66,108.89 L267.91,108.89 L268.16,108.89 L268.41,108.89 L268.66,108.89 L268.91,108.89 L269.16,108.89 L269.41,108.89 L269.66,108.89 L269.91,108.88 L270.16,108.88 L270.41,108.88 L270.67,108.88 L270.92,108.88 L271.17,108.88 L271.42,108.88 L271.67,108.88 L271.92,108.88 L272.17,108.88 L272.42,108.88 L272.67,108.88 L272.92,108.88 L273.17,108.88 L273.42,108.87 L273.67,108.87 L273.92,108.87 L274.17,108.87 L274.42,108.87 L274.68,108.87 L274.93,108.87 L275.18,108.87 L275.43,108.86 L275.68,108.86 L275.93,108.86 L276.18,108.86 L276.43,108.86 L276.68,108.85 L276.93,108.85 L277.18,108.85 L277.43,108.85 L277.68,108.84 L277.93,108.84 L278.18,108.84 L278.43,108.83 L278.68,108.83 L278.94,108.83 L279.19,108.82 L279.44,108.82 L279.69,108.81 L279.94,108.81 L280.19,108.80 L280.44,108.80 L280.69,108.79 L280.94,108.78 L281.19,108.77 L281.44,108.77 L281.69,108.76 L281.94,108.75 L282.19,108.74 L282.44,108.72 L282.69,108.71 L282.95,108.70 L283.20,108.68 L283.45,108.66 L283.70,108.64 L283.95,108.62 L284.20,108.60 L284.45,108.57 L284.70,108.55 L284.95,108.52 L285.20,108.48 L285.45,108.44 L285.70,108.40 L285.95,108.36 L286.20,108.31 L286.45,108.25 L286.70,108.19 L286.96,108.12 L287.21,108.05 L287.46,107.97 L287.71,107.89 L287.96,107.80 L288.21,107.70 L288.46,107.61 L288.71,107.50 L288.96,107.40 L289.21,107.30 L289.46,107.20 L289.71,107.12 L289.96,107.04 L290.21,106.98 L290.46,106.93 L290.71,106.90 L290.96,106.90 L291.22,106.91 L291.47,106.95 L291.72,107.00 L291.97,107.08 L292.22,107.16 L292.47,107.25 L292.72,107.35 L292.97,107.45 L293.22,107.55 L293.47,107.65 L293.72,107.75 L293.97,107.84 L294.22,107.92 L294.47,108.00 L294.72,108.07 L294.97,108.14 L295.23,108.20 L295.48,108.25 L295.73,108.30 L295.98,108.34 L296.23,108.38 L296.48,108.41 L296.73,108.44 L296.98,108.46 L297.23,108.48 L297.48,108.50 L297.73,108.51 L297.98,108.51 L298.23,108.52 L298.48,108.52 L298.73,108.51 L298.98,108.51 L299.24,108.50 L299.49,108.48 L299.74,108.47 L299.99,108.45 L300.24,108.42 L300.49,108.40 L300.74,108.37 L300.99,108.34 L301.24,108.30 L301.49,108.26 L301.74,108.23 L301.99,108.19 L302.24,108.14 L302.49,108.10 L302.74,108.05 L302.99,108.01 L303.24,107.96 L303.50,107.91 L303.75,107.86 L304.00,107.81 L304.25,107.75 L304.50,107.68 L304.75,107.61 L305.00,107.51 L305.25,107.40 L305.50,107.25 L305.75,107.07 L306.00,106.83 L306.25,106.52 L306.50,106.14 L306.75,105.68 L307.00,105.13 L307.25,104.48 L307.51,103.74 L307.76,102.91 L308.01,102.00 L308.26,101.00 L308.51,99.89 L308.76,98.61 L309.01,97.01 L309.26,94.84 L309.51,91.58 L309.76,86.33 L310.01,77.89 L310.26,65.77 L310.51,53.74 L310.76,51.03 L311.01,60.97 L311.26,75.19 L311.52,86.63 L311.77,94.18 L312.02,98.92 L312.27,101.94 L312.52,103.91 L312.77,105.25 L313.02,106.18 L313.27,106.85 L313.52,107.32 L313.77,107.67 L314.02,107.93 L314.27,108.12 L314.52,108.27 L314.77,108.38 L315.02,108.46 L315.27,108.53 L315.52,108.59 L315.78,108.63 L316.03,108.67 L316.28,108.70 L316.53,108.73 L316.78,108.75 L317.03,108.77 L317.28,108.78 L317.53,108.80 L317.78,108.81 L318.03,108.82 L318.28,108.83 L318.53,108.84 L318.78,108.84 L319.03,108.85 L319.28,108.85 L319.53,108.86 L319.79,108.86 L320.04,108.87 L320.29,108.87 L320.54,108.87 L320.79,108.87 L321.04,108.88 L321.29,108.88 L321.54,108.88 L321.79,108.88 L322.04,108.88 L322.29,108.88 L322.54,108.88 L322.79,108.88 L323.04,108.89 L323.29,108.89 L323.54,108.89 L323.80,108.89 L324.05,108.89 L324.30,108.89 L324.55,108.89 L324.80,108.89 L325.05,108.89 L325.30,108.89 L325.55,108.89 L325.80,108.89 L325.80,109.30 Z" fill="#a2a2a2" stroke="#555" stroke-width="0.75"/>
<line x1="263.9" y1="48.5" x2="263.9" y2="111" stroke="#a8a8a8" stroke-width="0.9" />
<line x1="274.29999999999995" y1="109.8" x2="274.29999999999995" y2="111" stroke="#888" stroke-width="0.6" />
<line x1="284.7" y1="109.8" x2="284.7" y2="111" stroke="#888" stroke-width="0.6" />
<line x1="295.1" y1="109.8" x2="295.1" y2="111" stroke="#888" stroke-width="0.6" />
<line x1="305.5" y1="109.8" x2="305.5" y2="111" stroke="#888" stroke-width="0.6" />
<line x1="315.9" y1="109.8" x2="315.9" y2="111" stroke="#888" stroke-width="0.6" />
<line x1="261.7" y1="58.300000000000004" x2="263.9" y2="58.300000000000004" stroke="#777" stroke-width="0.7" />
<text x="261.2" y="62.1" font-size="5.2" fill="#333" font-weight="bold" text-anchor="end" stroke="#333" stroke-width="0.45" >1.5K</text>
<line x1="261.7" y1="75.69999999999999" x2="263.9" y2="75.69999999999999" stroke="#777" stroke-width="0.7" />
<text x="261.2" y="79.5" font-size="5.2" fill="#333" font-weight="bold" text-anchor="end" stroke="#333" stroke-width="0.45" >1.0K</text>
<line x1="261.7" y1="92.69999999999999" x2="263.9" y2="92.69999999999999" stroke="#777" stroke-width="0.7" />
<text x="261.2" y="96.5" font-size="5.2" fill="#333" font-weight="bold" text-anchor="end" stroke="#333" stroke-width="0.45" >500</text>
<line x1="261.7" y1="106.89999999999999" x2="263.9" y2="106.89999999999999" stroke="#777" stroke-width="0.7" />
<text x="261.2" y="110.7" font-size="5.2" fill="#333" font-weight="bold" text-anchor="end" stroke="#333" stroke-width="0.45" >0</text>
<text x="281.9" y="102.5" font-size="10.2" fill="#000" font-weight="bold" textLength="18.5" lengthAdjust="spacingAndGlyphs" stroke="#000" stroke-width="0.45" >8.09</text>
<line x1="281.9" y1="105" x2="299.9" y2="105" stroke="#000" stroke-width="1.9" />
<rect x="263.9" y="122.8" width="62.400000000000034" height="62.2" fill="#fff" stroke="#c4c4c4" stroke-width="0.9" />
<path d="M264.40,184.00 L264.40,183.59 L264.65,183.59 L264.90,183.59 L265.15,183.59 L265.40,183.59 L265.65,183.59 L265.90,183.59 L266.15,183.59 L266.40,183.59 L266.66,183.59 L266.91,183.59 L267.16,183.59 L267.41,183.58 L267.66,183.58 L267.91,183.58 L268.16,183.58 L268.41,183.58 L268.66,183.58 L268.91,183.58 L269.16,183.58 L269.41,183.58 L269.66,183.58 L269.91,183.58 L270.16,183.58 L270.41,183.58 L270.67,183.58 L270.92,183.58 L271.17,183.57 L271.42,183.57 L271.67,183.57 L271.92,183.57 L272.17,183.57 L272.42,183.57 L272.67,183.57 L272.92,183.57 L273.17,183.57 L273.42,183.56 L273.67,183.56 L273.92,183.56 L274.17,183.56 L274.42,183.56 L274.68,183.56 L274.93,183.55 L275.18,183.55 L275.43,183.55 L275.68,183.55 L275.93,183.54 L276.18,183.54 L276.43,183.54 L276.68,183.53 L276.93,183.53 L277.18,183.53 L277.43,183.52 L277.68,183.52 L277.93,183.52 L278.18,183.51 L278.43,183.51 L278.68,183.50 L278.94,183.49 L279.19,183.49 L279.44,183.48 L279.69,183.47 L279.94,183.47 L280.19,183.46 L280.44,183.45 L280.69,183.44 L280.94,183.43 L281.19,183.41 L281.44,183.40 L281.69,183.39 L281.94,183.37 L282.19,183.35 L282.44,183.33 L282.69,183.31 L282.95,183.29 L283.20,183.26 L283.45,183.24 L283.70,183.21 L283.95,183.17 L284.20,183.13 L284.45,183.09 L284.70,183.05 L284.95,183.00 L285.20,182.94 L285.45,182.88 L285.70,182.81 L285.95,182.73 L286.20,182.65 L286.45,182.56 L286.70,182.46 L286.96,182.35 L287.21,182.23 L287.46,182.11 L287.71,181.97 L287.96,181.83 L288.21,181.68 L288.46,181.54 L288.71,181.39 L288.96,181.25 L289.21,181.12 L289.46,181.01 L289.71,180.91 L289.96,180.85 L290.21,180.81 L290.46,180.80 L290.71,180.82 L290.96,180.88 L291.22,180.96 L291.47,181.06 L291.72,181.18 L291.97,181.32 L292.22,181.46 L292.47,181.61 L292.72,181.75 L292.97,181.90 L293.22,182.03 L293.47,182.16 L293.72,182.28 L293.97,182.40 L294.22,182.50 L294.47,182.59 L294.72,182.68 L294.97,182.75 L295.23,182.82 L295.48,182.88 L295.73,182.94 L295.98,182.98 L296.23,183.03 L296.48,183.06 L296.73,183.09 L296.98,183.12 L297.23,183.14 L297.48,183.16 L297.73,183.17 L297.98,183.18 L298.23,183.19 L298.48,183.19 L298.73,183.18 L298.98,183.18 L299.24,183.17 L299.49,183.16 L299.74,183.14 L299.99,183.12 L300.24,183.10 L300.49,183.07 L300.74,183.04 L300.99,183.01 L301.24,182.98 L301.49,182.94 L301.74,182.90 L301.99,182.86 L302.24,182.82 L302.49,182.77 L302.74,182.73 L302.99,182.68 L303.24,182.64 L303.50,182.59 L303.75,182.53 L304.00,182.48 L304.25,182.42 L304.50,182.36 L304.75,182.28 L305.00,182.18 L305.25,182.07 L305.50,181.92 L305.75,181.73 L306.00,181.48 L306.25,181.18 L306.50,180.79 L306.75,180.32 L307.00,179.76 L307.25,179.10 L307.51,178.35 L307.76,177.51 L308.01,176.58 L308.26,175.56 L308.51,174.43 L308.76,173.13 L309.01,171.51 L309.26,169.30 L309.51,165.98 L309.76,160.64 L310.01,152.05 L310.26,139.73 L310.51,127.49 L310.76,124.74 L311.01,134.85 L311.26,149.31 L311.52,160.94 L311.77,168.62 L312.02,173.45 L312.27,176.52 L312.52,178.53 L312.77,179.89 L313.02,180.84 L313.27,181.51 L313.52,181.99 L313.77,182.35 L314.02,182.61 L314.27,182.81 L314.52,182.95 L314.77,183.07 L315.02,183.15 L315.27,183.22 L315.52,183.28 L315.78,183.33 L316.03,183.36 L316.28,183.39 L316.53,183.42 L316.78,183.44 L317.03,183.46 L317.28,183.48 L317.53,183.49 L317.78,183.51 L318.03,183.52 L318.28,183.53 L318.53,183.53 L318.78,183.54 L319.03,183.55 L319.28,183.55 L319.53,183.56 L319.79,183.56 L320.04,183.56 L320.29,183.57 L320.54,183.57 L320.79,183.57 L321.04,183.57 L321.29,183.58 L321.54,183.58 L321.79,183.58 L322.04,183.58 L322.29,183.58 L322.54,183.58 L322.79,183.58 L323.04,183.58 L323.29,183.59 L323.54,183.59 L323.80,183.59 L324.05,183.59 L324.30,183.59 L324.55,183.59 L324.80,183.59 L325.05,183.59 L325.30,183.59 L325.55,183.59 L325.80,183.59 L325.80,184.00 Z" fill="#f6a2a6" stroke="#e0707a" stroke-width="0.6"/>
<line x1="263.9" y1="122.8" x2="263.9" y2="185" stroke="#d8a0a0" stroke-width="0.9" />
<line x1="274.29999999999995" y1="183.8" x2="274.29999999999995" y2="185" stroke="#888" stroke-width="0.6" />
<line x1="284.7" y1="183.8" x2="284.7" y2="185" stroke="#888" stroke-width="0.6" />
<line x1="295.1" y1="183.8" x2="295.1" y2="185" stroke="#888" stroke-width="0.6" />
<line x1="305.5" y1="183.8" x2="305.5" y2="185" stroke="#888" stroke-width="0.6" />
<line x1="315.9" y1="183.8" x2="315.9" y2="185" stroke="#888" stroke-width="0.6" />
<line x1="261.7" y1="133.1" x2="263.9" y2="133.1" stroke="#777" stroke-width="0.7" />
<text x="261.2" y="136.9" font-size="5.2" fill="#333" font-weight="bold" text-anchor="end" stroke="#333" stroke-width="0.45" >1.5K</text>
<line x1="261.7" y1="150.1" x2="263.9" y2="150.1" stroke="#777" stroke-width="0.7" />
<text x="261.2" y="153.9" font-size="5.2" fill="#333" font-weight="bold" text-anchor="end" stroke="#333" stroke-width="0.45" >1.0K</text>
<line x1="261.7" y1="167.7" x2="263.9" y2="167.7" stroke="#777" stroke-width="0.7" />
<text x="261.2" y="171.5" font-size="5.2" fill="#333" font-weight="bold" text-anchor="end" stroke="#333" stroke-width="0.45" >500</text>
<line x1="261.7" y1="181.79999999999998" x2="263.9" y2="181.79999999999998" stroke="#777" stroke-width="0.7" />
<text x="261.2" y="185.6" font-size="5.2" fill="#333" font-weight="bold" text-anchor="end" stroke="#333" stroke-width="0.45" >0</text>
<text x="282.4" y="163" font-size="10.2" fill="#000" font-weight="bold" textLength="18.0" lengthAdjust="spacingAndGlyphs" stroke="#000" stroke-width="0.45" >11.8</text>
<line x1="282.7" y1="171.9" x2="299.59999999999997" y2="171.9" stroke="#000" stroke-width="1.9" />
<text x="267.79999999999995" y="198.5" font-size="5.2" fill="#333" font-weight="bold" textLength="5.4" lengthAdjust="spacingAndGlyphs" stroke="#333" stroke-width="0.45" >10</text>
<text x="273.9" y="193.9" font-size="4.4" fill="#333" font-weight="bold" stroke="#333" stroke-width="0.45" >2</text>
<text x="281.7" y="198.5" font-size="5.2" fill="#333" font-weight="bold" textLength="5.4" lengthAdjust="spacingAndGlyphs" stroke="#333" stroke-width="0.45" >10</text>
<text x="287.8" y="193.9" font-size="4.4" fill="#333" font-weight="bold" stroke="#333" stroke-width="0.45" >3</text>
<text x="294.0" y="198.5" font-size="5.2" fill="#333" font-weight="bold" textLength="5.4" lengthAdjust="spacingAndGlyphs" stroke="#333" stroke-width="0.45" >10</text>
<text x="300.1" y="193.9" font-size="4.4" fill="#333" font-weight="bold" stroke="#333" stroke-width="0.45" >4</text>
<text x="308.2" y="198.5" font-size="5.2" fill="#333" font-weight="bold" textLength="5.4" lengthAdjust="spacingAndGlyphs" stroke="#333" stroke-width="0.45" >10</text>
<text x="314.3" y="193.9" font-size="4.4" fill="#333" font-weight="bold" stroke="#333" stroke-width="0.45" >5</text>
<text x="316.29999999999995" y="198.5" font-size="5.2" fill="#333" font-weight="bold" textLength="5.4" lengthAdjust="spacingAndGlyphs" stroke="#333" stroke-width="0.45" >10</text>
<text x="322.4" y="193.9" font-size="4.4" fill="#333" font-weight="bold" stroke="#333" stroke-width="0.45" >6</text>
<text x="32.7" y="61.2" font-size="10.3" fill="#000" font-weight="bold" textLength="38.5" lengthAdjust="spacingAndGlyphs" stroke="#000" stroke-width="0.45" >(-) BAFF</text>
<text x="31.7" y="134.6" font-size="10.3" fill="#cf2e3e" font-weight="bold" textLength="40.3" lengthAdjust="spacingAndGlyphs" stroke="#cf2e3e" stroke-width="0.45" >(+) BAFF</text>
<text transform="translate(8.6,187) rotate(-90)" font-size="10.8" font-weight="bold" stroke="#000" stroke-width="0.45" textLength="53.5" lengthAdjust="spacingAndGlyphs">cell count</text>
<path d="M4.2,209.6 V193" stroke="#000" stroke-width="2" fill="none"/>
<path d="M0.8,195.2 L4.2,189.6 L7.6,195.2 Z" fill="#000"/>
<path d="M4.2,209.6 H19" stroke="#000" stroke-width="2" fill="none"/>
<path d="M17.5,206.2 L23.2,209.6 L17.5,213 Z" fill="#000"/>
<text x="26" y="213.6" font-size="11.2" fill="#000" font-weight="bold" textLength="30.5" lengthAdjust="spacingAndGlyphs" stroke="#000" stroke-width="0.45" >7AAD</text>
<line x1="375" y1="73.8" x2="375" y2="163.6" stroke="#000" stroke-width="1.5" />
<line x1="374.2" y1="162.8" x2="508.2" y2="162.8" stroke="#000" stroke-width="1.5" />
<line x1="372.2" y1="74.3" x2="375" y2="74.3" stroke="#000" stroke-width="1.3" />
<line x1="372.2" y1="118.6" x2="375" y2="118.6" stroke="#000" stroke-width="1.3" />
<line x1="372.2" y1="162.8" x2="375" y2="162.8" stroke="#000" stroke-width="1.3" />
<line x1="441.2" y1="162.8" x2="441.2" y2="165.3" stroke="#000" stroke-width="1.3" />
<line x1="507.5" y1="162.8" x2="507.5" y2="165.3" stroke="#000" stroke-width="1.3" />
<text x="353.3" y="80" font-size="10" fill="#000" font-weight="bold" textLength="15.8" lengthAdjust="spacingAndGlyphs" stroke="#000" stroke-width="0.45" >100</text>
<text x="359.1" y="122.7" font-size="10" fill="#000" font-weight="bold" textLength="11.3" lengthAdjust="spacingAndGlyphs" stroke="#000" stroke-width="0.45" >50</text>
<text x="365" y="165" font-size="10" fill="#000" font-weight="bold" textLength="5.4" lengthAdjust="spacingAndGlyphs" stroke="#000" stroke-width="0.45" >0</text>
<text x="373.8" y="175.4" font-size="10" fill="#000" font-weight="bold" textLength="5.4" lengthAdjust="spacingAndGlyphs" stroke="#000" stroke-width="0.45" >0</text>
<text x="436" y="175.5" font-size="10" fill="#000" font-weight="bold" textLength="11.3" lengthAdjust="spacingAndGlyphs" stroke="#000" stroke-width="0.45" >45</text>
<text x="503.5" y="175.5" font-size="10" fill="#000" font-weight="bold" textLength="11.3" lengthAdjust="spacingAndGlyphs" stroke="#000" stroke-width="0.45" >90</text>
<text x="420.6" y="186.7" font-size="10.6" fill="#000" font-weight="bold" textLength="42.3" lengthAdjust="spacingAndGlyphs" stroke="#000" stroke-width="0.45" >time (hr)</text>
<text transform="translate(349.6,173.9) rotate(-90)" font-size="10.4" font-weight="bold" stroke="#000" stroke-width="0.45" textLength="39" lengthAdjust="spacingAndGlyphs">Relative</text>
<text transform="translate(349.6,127.8) rotate(-90)" font-size="10.4" font-weight="bold" stroke="#000" stroke-width="0.45" textLength="63.7" lengthAdjust="spacingAndGlyphs">live cells (%)</text>
<line x1="378.3" y1="78.2" x2="406.9" y2="101.2" stroke="#000" stroke-width="1.25" />
<line x1="378.3" y1="78.2" x2="406.9" y2="105.4" stroke="#000" stroke-width="1.25" />
<line x1="378.3" y1="78.2" x2="406.9" y2="120.8" stroke="#000" stroke-width="1.25" />
<line x1="378.3" y1="78.2" x2="406.9" y2="126.5" stroke="#000" stroke-width="1.25" />
<line x1="415.8" y1="104.6" x2="482.5" y2="104.6" stroke="#000" stroke-width="1.25" />
<line x1="415.8" y1="109.6" x2="482.5" y2="112.3" stroke="#000" stroke-width="1.25" />
<line x1="415.8" y1="127.3" x2="482.5" y2="149.8" stroke="#000" stroke-width="1.25" />
<line x1="415.8" y1="131.3" x2="482.5" y2="135.4" stroke="#000" stroke-width="1.25" />
<line x1="410.8" y1="100.4" x2="410.8" y2="113.5" stroke="#000" stroke-width="0.9" />
<line x1="408.8" y1="100.4" x2="412.8" y2="100.4" stroke="#000" stroke-width="1.3" />
<line x1="408.8" y1="113.5" x2="412.8" y2="113.5" stroke="#000" stroke-width="1.3" />
<rect x="409.3" y="102.7" width="3" height="3" fill="#2a2a2a"/>
<rect x="409.3" y="108.1" width="3" height="3" fill="#2a2a2a"/>
<line x1="410.8" y1="122.3" x2="410.8" y2="134.6" stroke="#000" stroke-width="0.9" />
<line x1="408.8" y1="122.3" x2="412.8" y2="122.3" stroke="#000" stroke-width="1.3" />
<line x1="408.8" y1="134.6" x2="412.8" y2="134.6" stroke="#000" stroke-width="1.3" />
<rect x="409.3" y="124.1" width="3" height="3" fill="#2a2a2a"/>
<rect x="409.3" y="129.7" width="3" height="3" fill="#2a2a2a"/>
<rect x="409.3" y="131.5" width="3" height="3" fill="#2a2a2a"/>
<line x1="487.8" y1="101.3" x2="487.8" y2="116.2" stroke="#000" stroke-width="0.9" />
<line x1="485.8" y1="101.3" x2="489.8" y2="101.3" stroke="#000" stroke-width="1.3" />
<line x1="485.8" y1="116.2" x2="489.8" y2="116.2" stroke="#000" stroke-width="1.3" />
<rect x="486.3" y="103.1" width="3" height="3" fill="#2a2a2a"/>
<rect x="486.3" y="109.4" width="3" height="3" fill="#2a2a2a"/>
<line x1="487.8" y1="132.5" x2="487.8" y2="139.2" stroke="#000" stroke-width="0.9" />
<line x1="485.8" y1="132.5" x2="489.8" y2="132.5" stroke="#000" stroke-width="1.3" />
<line x1="485.8" y1="139.2" x2="489.8" y2="139.2" stroke="#000" stroke-width="1.3" />
<rect x="486.3" y="132.5" width="3" height="3" fill="#2a2a2a"/>
<rect x="486.3" y="136.0" width="3" height="3" fill="#2a2a2a"/>
<line x1="487.8" y1="146.9" x2="487.8" y2="156" stroke="#000" stroke-width="0.9" />
<line x1="485.8" y1="146.9" x2="489.8" y2="146.9" stroke="#000" stroke-width="1.3" />
<line x1="485.8" y1="156" x2="489.8" y2="156" stroke="#000" stroke-width="1.3" />
<rect x="486.3" y="148.3" width="3" height="3" fill="#2a2a2a"/>
<rect x="486.3" y="151.0" width="3" height="3" fill="#2a2a2a"/>
<path d="M372.8,73.5 L377,73.5 L374.9,77 Z" fill="#333"/>
<path d="M493.6,105.1 H496.4 V150.8 H493.6" stroke="#000" stroke-width="1.1" fill="none"/>
<path d="M503.2,105.1 H506.5 V135.4" stroke="#000" stroke-width="1.1" fill="none"/>
<path d="M503.2,135.4 H506.5 V150.8 H503.2" stroke="#d92348" stroke-width="1.1" fill="none"/>
<line x1="503.2" y1="135.4" x2="506.5" y2="135.4" stroke="#7a1020" stroke-width="1.3" />
<text transform="translate(506.3,134.6) rotate(-90)" font-size="12" font-weight="bold" textLength="12.7" lengthAdjust="spacingAndGlyphs">***</text>
<text transform="translate(516.6,126.9) rotate(-90)" font-size="12" font-weight="bold" textLength="12.7" lengthAdjust="spacingAndGlyphs">***</text>
<circle cx="509.5" cy="144" r="1.9" fill="#e02040"/>
<circle cx="455.6" cy="43.6" r="2.6" fill="#5e5e5e"/>
<rect x="453.2" y="52.3" width="4.8" height="4.8" fill="#5e5e5e" stroke="none" stroke-width="1" />
<path d="M452.8,68.6 L455.6,63.6 L458.4,68.6 Z" fill="#5e5e5e"/>
<path d="M455.6,74.6 L458.3,77.3 L455.6,80 L452.9,77.3 Z" fill="#5e5e5e"/>
<text x="463.3" y="46.7" font-size="9" font-weight="bold" font-style="italic" stroke="#000" stroke-width="0.45" textLength="36.7" lengthAdjust="spacingAndGlyphs"><tspan>wild type</tspan></text>
<text x="463.3" y="57.8" font-size="9" font-weight="bold" font-style="italic" stroke="#000" stroke-width="0.45" textLength="24" lengthAdjust="spacingAndGlyphs"><tspan>Relb</tspan><tspan font-size="5.94" dy="-3.24">-/-</tspan></text>
<text x="463.3" y="69.4" font-size="9" font-weight="bold" font-style="italic" stroke="#000" stroke-width="0.45" textLength="24.5" lengthAdjust="spacingAndGlyphs"><tspan>cRel</tspan><tspan font-size="5.94" dy="-3.24">-/-</tspan></text>
<text x="463.3" y="80.5" font-size="9" font-weight="bold" font-style="italic" stroke="#000" stroke-width="0.45" textLength="46.7" lengthAdjust="spacingAndGlyphs"><tspan>Relb</tspan><tspan font-size="5.94" dy="-3.24">-/-</tspan><tspan dy="3.24">cRel</tspan><tspan font-size="5.94" dy="-3.24">-/-</tspan></text>
<text x="6.25" y="263" font-size="18" fill="#000" font-weight="bold" stroke="#000" stroke-width="0.45" >B</text>
<text x="120.6" y="263.5" font-size="13.5" fill="#000" font-weight="bold" textLength="35" lengthAdjust="spacingAndGlyphs" stroke="#000" stroke-width="0.45" >CD23</text>
<text x="156.2" y="258.6" font-size="8.5" fill="#000" font-weight="bold" textLength="4.6" lengthAdjust="spacingAndGlyphs" stroke="#000" stroke-width="0.45" >+</text>
<text x="170" y="263.5" font-size="13.5" fill="#000" font-weight="bold" textLength="48.3" lengthAdjust="spacingAndGlyphs" stroke="#000" stroke-width="0.45" >B cells</text>
<line x1="66.5" y1="268.7" x2="259.3" y2="268.7" stroke="#000" stroke-width="2" />
<text x="75.7" y="284.7" font-size="12.3" font-weight="bold" font-style="italic" stroke="#000" stroke-width="0.45" textLength="57" lengthAdjust="spacingAndGlyphs"><tspan>wild type</tspan></text>
<text x="185" y="284.7" font-size="12.3" font-weight="bold" font-style="italic" stroke="#000" stroke-width="0.45" textLength="74" lengthAdjust="spacingAndGlyphs"><tspan>Relb</tspan><tspan font-size="8.12" dy="-4.43">-/-</tspan><tspan dy="4.43">cRel</tspan><tspan font-size="8.12" dy="-4.43">-/-</tspan></text>
<rect x="59.8" y="290" width="88.2" height="88.19999999999999" fill="#fff" stroke="#b8b8b8" stroke-width="0.9" />
<path d="M61.0,377.5 L80.0,377.3 L85.0,376.8 L89.0,375.5 L92.0,374.0 L94.0,372.2 L96.0,370.5 L97.7,369.8 L99.0,370.8 L100.5,373.0 L102.0,376.0 L103.5,377.3 L113.8,377.5 L114.6,372.0 L115.3,360.0 L116.2,343.7 L117.0,360.0 L117.6,370.0 L118.5,377.4 L146.5,377.5 Z" fill="#a2a2a2" stroke="#505050" stroke-width="0.95" stroke-linejoin="round"/>
<line x1="59.8" y1="290" x2="59.8" y2="378.2" stroke="#888" stroke-width="0.9" />
<line x1="59.8" y1="377.8" x2="148" y2="377.8" stroke="#777" stroke-width="0.8" />
<line x1="70.825" y1="376.9" x2="70.825" y2="378.2" stroke="#666" stroke-width="0.6" />
<line x1="81.85" y1="376.9" x2="81.85" y2="378.2" stroke="#666" stroke-width="0.6" />
<line x1="92.875" y1="376.9" x2="92.875" y2="378.2" stroke="#666" stroke-width="0.6" />
<line x1="103.9" y1="376.9" x2="103.9" y2="378.2" stroke="#666" stroke-width="0.6" />
<line x1="114.925" y1="376.9" x2="114.925" y2="378.2" stroke="#666" stroke-width="0.6" />
<line x1="125.95" y1="376.9" x2="125.95" y2="378.2" stroke="#666" stroke-width="0.6" />
<line x1="136.975" y1="376.9" x2="136.975" y2="378.2" stroke="#666" stroke-width="0.6" />
<line x1="57.5" y1="297.8" x2="59.8" y2="297.8" stroke="#555" stroke-width="0.8" />
<text x="55.199999999999996" y="303.2" font-size="7.6" fill="#222" font-weight="bold" text-anchor="end" textLength="12.5" lengthAdjust="spacingAndGlyphs" stroke="#222" stroke-width="0.45" >500</text>
<line x1="57.5" y1="313.75" x2="59.8" y2="313.75" stroke="#555" stroke-width="0.8" />
<text x="55.199999999999996" y="319.15" font-size="7.6" fill="#222" font-weight="bold" text-anchor="end" textLength="12.5" lengthAdjust="spacingAndGlyphs" stroke="#222" stroke-width="0.45" >400</text>
<line x1="57.5" y1="329.7" x2="59.8" y2="329.7" stroke="#555" stroke-width="0.8" />
<text x="55.199999999999996" y="335.09999999999997" font-size="7.6" fill="#222" font-weight="bold" text-anchor="end" textLength="12.5" lengthAdjust="spacingAndGlyphs" stroke="#222" stroke-width="0.45" >300</text>
<line x1="57.5" y1="345.65" x2="59.8" y2="345.65" stroke="#555" stroke-width="0.8" />
<text x="55.199999999999996" y="351.04999999999995" font-size="7.6" fill="#222" font-weight="bold" text-anchor="end" textLength="12.5" lengthAdjust="spacingAndGlyphs" stroke="#222" stroke-width="0.45" >200</text>
<line x1="57.5" y1="361.6" x2="59.8" y2="361.6" stroke="#555" stroke-width="0.8" />
<text x="55.199999999999996" y="367.0" font-size="7.6" fill="#222" font-weight="bold" text-anchor="end" textLength="12.5" lengthAdjust="spacingAndGlyphs" stroke="#222" stroke-width="0.45" >100</text>
<line x1="57.5" y1="377.55" x2="59.8" y2="377.55" stroke="#555" stroke-width="0.8" />
<text x="55.199999999999996" y="377.84999999999997" font-size="7.6" fill="#222" font-weight="bold" text-anchor="end" textLength="4.3" lengthAdjust="spacingAndGlyphs" stroke="#222" stroke-width="0.45" >0</text>
<text x="63.199999999999996" y="396.8" font-size="6.8" fill="#222" font-weight="bold" textLength="7.3" lengthAdjust="spacingAndGlyphs" stroke="#222" stroke-width="0.45" >10</text>
<text x="71.1" y="391.7" font-size="5.8" fill="#222" font-weight="bold" stroke="#222" stroke-width="0.45" >0</text>
<text x="79.69999999999999" y="396.8" font-size="6.8" fill="#222" font-weight="bold" textLength="7.3" lengthAdjust="spacingAndGlyphs" stroke="#222" stroke-width="0.45" >10</text>
<text x="87.6" y="391.7" font-size="5.8" fill="#222" font-weight="bold" stroke="#222" stroke-width="0.45" >2</text>
<text x="104.69999999999999" y="396.8" font-size="6.8" fill="#222" font-weight="bold" textLength="7.3" lengthAdjust="spacingAndGlyphs" stroke="#222" stroke-width="0.45" >10</text>
<text x="112.6" y="391.7" font-size="5.8" fill="#222" font-weight="bold" stroke="#222" stroke-width="0.45" >4</text>
<text x="130.0" y="396.8" font-size="6.8" fill="#222" font-weight="bold" textLength="7.3" lengthAdjust="spacingAndGlyphs" stroke="#222" stroke-width="0.45" >10</text>
<text x="137.9" y="391.7" font-size="5.8" fill="#222" font-weight="bold" stroke="#222" stroke-width="0.45" >6</text>
<rect x="59.8" y="404" width="88.2" height="88.30000000000001" fill="#fff" stroke="#b8b8b8" stroke-width="0.9" />
<path d="M61.0,490.0 L65.0,489.5 L70.0,488.5 L75.0,486.5 L80.0,482.0 L84.0,475.0 L87.0,466.0 L89.0,456.0 L90.5,448.0 L92.0,435.0 L93.5,420.0 L95.0,411.0 L96.0,409.5 L97.2,412.0 L98.5,425.0 L99.7,440.0 L100.7,452.0 L101.8,468.0 L102.8,482.0 L104.0,488.5 L106.0,490.0 L112.5,490.0 L113.2,486.0 L114.2,478.0 L114.8,460.0 L115.7,431.0 L116.5,460.0 L117.0,476.0 L118.2,483.0 L119.2,488.0 L120.0,490.0 L146.5,490.0 Z" fill="#f6a0a4" stroke="#d8606a" stroke-width="0.95" stroke-linejoin="round"/>
<line x1="59.8" y1="404" x2="59.8" y2="492.3" stroke="#b08080" stroke-width="0.9" />
<line x1="59.8" y1="491.90000000000003" x2="148" y2="491.90000000000003" stroke="#c07070" stroke-width="0.8" />
<line x1="70.825" y1="491.0" x2="70.825" y2="492.3" stroke="#666" stroke-width="0.6" />
<line x1="81.85" y1="491.0" x2="81.85" y2="492.3" stroke="#666" stroke-width="0.6" />
<line x1="92.875" y1="491.0" x2="92.875" y2="492.3" stroke="#666" stroke-width="0.6" />
<line x1="103.9" y1="491.0" x2="103.9" y2="492.3" stroke="#666" stroke-width="0.6" />
<line x1="114.925" y1="491.0" x2="114.925" y2="492.3" stroke="#666" stroke-width="0.6" />
<line x1="125.95" y1="491.0" x2="125.95" y2="492.3" stroke="#666" stroke-width="0.6" />
<line x1="136.975" y1="491.0" x2="136.975" y2="492.3" stroke="#666" stroke-width="0.6" />
<line x1="57.5" y1="411.8" x2="59.8" y2="411.8" stroke="#555" stroke-width="0.8" />
<text x="55.199999999999996" y="417.2" font-size="7.6" fill="#222" font-weight="bold" text-anchor="end" textLength="12.5" lengthAdjust="spacingAndGlyphs" stroke="#222" stroke-width="0.45" >500</text>
<line x1="57.5" y1="427.75" x2="59.8" y2="427.75" stroke="#555" stroke-width="0.8" />
<text x="55.199999999999996" y="433.15" font-size="7.6" fill="#222" font-weight="bold" text-anchor="end" textLength="12.5" lengthAdjust="spacingAndGlyphs" stroke="#222" stroke-width="0.45" >400</text>
<line x1="57.5" y1="443.7" x2="59.8" y2="443.7" stroke="#555" stroke-width="0.8" />
<text x="55.199999999999996" y="449.09999999999997" font-size="7.6" fill="#222" font-weight="bold" text-anchor="end" textLength="12.5" lengthAdjust="spacingAndGlyphs" stroke="#222" stroke-width="0.45" >300</text>
<line x1="57.5" y1="459.65" x2="59.8" y2="459.65" stroke="#555" stroke-width="0.8" />
<text x="55.199999999999996" y="465.04999999999995" font-size="7.6" fill="#222" font-weight="bold" text-anchor="end" textLength="12.5" lengthAdjust="spacingAndGlyphs" stroke="#222" stroke-width="0.45" >200</text>
<line x1="57.5" y1="475.6" x2="59.8" y2="475.6" stroke="#555" stroke-width="0.8" />
<text x="55.199999999999996" y="481.0" font-size="7.6" fill="#222" font-weight="bold" text-anchor="end" textLength="12.5" lengthAdjust="spacingAndGlyphs" stroke="#222" stroke-width="0.45" >100</text>
<line x1="57.5" y1="491.55" x2="59.8" y2="491.55" stroke="#555" stroke-width="0.8" />
<text x="55.199999999999996" y="491.84999999999997" font-size="7.6" fill="#222" font-weight="bold" text-anchor="end" textLength="4.3" lengthAdjust="spacingAndGlyphs" stroke="#222" stroke-width="0.45" >0</text>
<text x="63.199999999999996" y="510.90000000000003" font-size="6.8" fill="#222" font-weight="bold" textLength="7.3" lengthAdjust="spacingAndGlyphs" stroke="#222" stroke-width="0.45" >10</text>
<text x="71.1" y="505.8" font-size="5.8" fill="#222" font-weight="bold" stroke="#222" stroke-width="0.45" >0</text>
<text x="79.69999999999999" y="510.90000000000003" font-size="6.8" fill="#222" font-weight="bold" textLength="7.3" lengthAdjust="spacingAndGlyphs" stroke="#222" stroke-width="0.45" >10</text>
<text x="87.6" y="505.8" font-size="5.8" fill="#222" font-weight="bold" stroke="#222" stroke-width="0.45" >2</text>
<text x="104.69999999999999" y="510.90000000000003" font-size="6.8" fill="#222" font-weight="bold" textLength="7.3" lengthAdjust="spacingAndGlyphs" stroke="#222" stroke-width="0.45" >10</text>
<text x="112.6" y="505.8" font-size="5.8" fill="#222" font-weight="bold" stroke="#222" stroke-width="0.45" >4</text>
<text x="130.0" y="510.90000000000003" font-size="6.8" fill="#222" font-weight="bold" textLength="7.3" lengthAdjust="spacingAndGlyphs" stroke="#222" stroke-width="0.45" >10</text>
<text x="137.9" y="505.8" font-size="5.8" fill="#222" font-weight="bold" stroke="#222" stroke-width="0.45" >6</text>
<rect x="177.5" y="290" width="88.80000000000001" height="88.19999999999999" fill="#fff" stroke="#b8b8b8" stroke-width="0.9" />
<path d="M178.8,377.5 L205.0,377.4 L210.0,376.6 L214.0,376.3 L218.0,376.9 L224.0,377.4 L233.2,377.5 L234.2,365.0 L235.5,331.5 L236.4,358.0 L236.8,362.0 L238.1,363.3 L239.3,372.0 L240.4,377.5 L265.0,377.5 Z" fill="#a2a2a2" stroke="#505050" stroke-width="0.95" stroke-linejoin="round"/>
<line x1="177.5" y1="290" x2="177.5" y2="378.2" stroke="#888" stroke-width="0.9" />
<line x1="177.5" y1="377.8" x2="266.3" y2="377.8" stroke="#777" stroke-width="0.8" />
<line x1="188.6" y1="376.9" x2="188.6" y2="378.2" stroke="#666" stroke-width="0.6" />
<line x1="199.7" y1="376.9" x2="199.7" y2="378.2" stroke="#666" stroke-width="0.6" />
<line x1="210.8" y1="376.9" x2="210.8" y2="378.2" stroke="#666" stroke-width="0.6" />
<line x1="221.9" y1="376.9" x2="221.9" y2="378.2" stroke="#666" stroke-width="0.6" />
<line x1="233.0" y1="376.9" x2="233.0" y2="378.2" stroke="#666" stroke-width="0.6" />
<line x1="244.10000000000002" y1="376.9" x2="244.10000000000002" y2="378.2" stroke="#666" stroke-width="0.6" />
<line x1="255.20000000000002" y1="376.9" x2="255.20000000000002" y2="378.2" stroke="#666" stroke-width="0.6" />
<line x1="175.2" y1="297.8" x2="177.5" y2="297.8" stroke="#555" stroke-width="0.8" />
<text x="172.9" y="303.2" font-size="7.6" fill="#222" font-weight="bold" text-anchor="end" textLength="12.5" lengthAdjust="spacingAndGlyphs" stroke="#222" stroke-width="0.45" >500</text>
<line x1="175.2" y1="313.75" x2="177.5" y2="313.75" stroke="#555" stroke-width="0.8" />
<text x="172.9" y="319.15" font-size="7.6" fill="#222" font-weight="bold" text-anchor="end" textLength="12.5" lengthAdjust="spacingAndGlyphs" stroke="#222" stroke-width="0.45" >400</text>
<line x1="175.2" y1="329.7" x2="177.5" y2="329.7" stroke="#555" stroke-width="0.8" />
<text x="172.9" y="335.09999999999997" font-size="7.6" fill="#222" font-weight="bold" text-anchor="end" textLength="12.5" lengthAdjust="spacingAndGlyphs" stroke="#222" stroke-width="0.45" >300</text>
<line x1="175.2" y1="345.65" x2="177.5" y2="345.65" stroke="#555" stroke-width="0.8" />
<text x="172.9" y="351.04999999999995" font-size="7.6" fill="#222" font-weight="bold" text-anchor="end" textLength="12.5" lengthAdjust="spacingAndGlyphs" stroke="#222" stroke-width="0.45" >200</text>
<line x1="175.2" y1="361.6" x2="177.5" y2="361.6" stroke="#555" stroke-width="0.8" />
<text x="172.9" y="367.0" font-size="7.6" fill="#222" font-weight="bold" text-anchor="end" textLength="12.5" lengthAdjust="spacingAndGlyphs" stroke="#222" stroke-width="0.45" >100</text>
<line x1="175.2" y1="377.55" x2="177.5" y2="377.55" stroke="#555" stroke-width="0.8" />
<text x="172.9" y="377.84999999999997" font-size="7.6" fill="#222" font-weight="bold" text-anchor="end" textLength="4.3" lengthAdjust="spacingAndGlyphs" stroke="#222" stroke-width="0.45" >0</text>
<text x="180.9" y="396.8" font-size="6.8" fill="#222" font-weight="bold" textLength="7.3" lengthAdjust="spacingAndGlyphs" stroke="#222" stroke-width="0.45" >10</text>
<text x="188.8" y="391.7" font-size="5.8" fill="#222" font-weight="bold" stroke="#222" stroke-width="0.45" >0</text>
<text x="197.4" y="396.8" font-size="6.8" fill="#222" font-weight="bold" textLength="7.3" lengthAdjust="spacingAndGlyphs" stroke="#222" stroke-width="0.45" >10</text>
<text x="205.3" y="391.7" font-size="5.8" fill="#222" font-weight="bold" stroke="#222" stroke-width="0.45" >2</text>
<text x="222.4" y="396.8" font-size="6.8" fill="#222" font-weight="bold" textLength="7.3" lengthAdjust="spacingAndGlyphs" stroke="#222" stroke-width="0.45" >10</text>
<text x="230.3" y="391.7" font-size="5.8" fill="#222" font-weight="bold" stroke="#222" stroke-width="0.45" >4</text>
<text x="247.7" y="396.8" font-size="6.8" fill="#222" font-weight="bold" textLength="7.3" lengthAdjust="spacingAndGlyphs" stroke="#222" stroke-width="0.45" >10</text>
<text x="255.6" y="391.7" font-size="5.8" fill="#222" font-weight="bold" stroke="#222" stroke-width="0.45" >6</text>
<rect x="177.5" y="404" width="88.80000000000001" height="88.30000000000001" fill="#fff" stroke="#b8b8b8" stroke-width="0.9" />
<path d="M178.8,491.0 L205.0,491.0 L210.0,490.0 L215.0,489.3 L218.0,489.8 L225.0,491.0 L232.8,491.0 L233.6,487.0 L234.5,460.0 L235.4,422.5 L236.3,460.0 L236.8,472.5 L238.6,473.3 L239.4,484.0 L240.3,491.0 L265.0,491.0 Z" fill="#f6a0a4" stroke="#d8606a" stroke-width="0.95" stroke-linejoin="round"/>
<line x1="177.5" y1="404" x2="177.5" y2="492.3" stroke="#b08080" stroke-width="0.9" />
<line x1="177.5" y1="491.90000000000003" x2="266.3" y2="491.90000000000003" stroke="#c07070" stroke-width="0.8" />
<line x1="188.6" y1="491.0" x2="188.6" y2="492.3" stroke="#666" stroke-width="0.6" />
<line x1="199.7" y1="491.0" x2="199.7" y2="492.3" stroke="#666" stroke-width="0.6" />
<line x1="210.8" y1="491.0" x2="210.8" y2="492.3" stroke="#666" stroke-width="0.6" />
<line x1="221.9" y1="491.0" x2="221.9" y2="492.3" stroke="#666" stroke-width="0.6" />
<line x1="233.0" y1="491.0" x2="233.0" y2="492.3" stroke="#666" stroke-width="0.6" />
<line x1="244.10000000000002" y1="491.0" x2="244.10000000000002" y2="492.3" stroke="#666" stroke-width="0.6" />
<line x1="255.20000000000002" y1="491.0" x2="255.20000000000002" y2="492.3" stroke="#666" stroke-width="0.6" />
<line x1="175.2" y1="411.8" x2="177.5" y2="411.8" stroke="#555" stroke-width="0.8" />
<text x="172.9" y="417.2" font-size="7.6" fill="#222" font-weight="bold" text-anchor="end" textLength="12.5" lengthAdjust="spacingAndGlyphs" stroke="#222" stroke-width="0.45" >500</text>
<line x1="175.2" y1="427.75" x2="177.5" y2="427.75" stroke="#555" stroke-width="0.8" />
<text x="172.9" y="433.15" font-size="7.6" fill="#222" font-weight="bold" text-anchor="end" textLength="12.5" lengthAdjust="spacingAndGlyphs" stroke="#222" stroke-width="0.45" >400</text>
<line x1="175.2" y1="443.7" x2="177.5" y2="443.7" stroke="#555" stroke-width="0.8" />
<text x="172.9" y="449.09999999999997" font-size="7.6" fill="#222" font-weight="bold" text-anchor="end" textLength="12.5" lengthAdjust="spacingAndGlyphs" stroke="#222" stroke-width="0.45" >300</text>
<line x1="175.2" y1="459.65" x2="177.5" y2="459.65" stroke="#555" stroke-width="0.8" />
<text x="172.9" y="465.04999999999995" font-size="7.6" fill="#222" font-weight="bold" text-anchor="end" textLength="12.5" lengthAdjust="spacingAndGlyphs" stroke="#222" stroke-width="0.45" >200</text>
<line x1="175.2" y1="475.6" x2="177.5" y2="475.6" stroke="#555" stroke-width="0.8" />
<text x="172.9" y="481.0" font-size="7.6" fill="#222" font-weight="bold" text-anchor="end" textLength="12.5" lengthAdjust="spacingAndGlyphs" stroke="#222" stroke-width="0.45" >100</text>
<line x1="175.2" y1="491.55" x2="177.5" y2="491.55" stroke="#555" stroke-width="0.8" />
<text x="172.9" y="491.84999999999997" font-size="7.6" fill="#222" font-weight="bold" text-anchor="end" textLength="4.3" lengthAdjust="spacingAndGlyphs" stroke="#222" stroke-width="0.45" >0</text>
<text x="180.9" y="510.90000000000003" font-size="6.8" fill="#222" font-weight="bold" textLength="7.3" lengthAdjust="spacingAndGlyphs" stroke="#222" stroke-width="0.45" >10</text>
<text x="188.8" y="505.8" font-size="5.8" fill="#222" font-weight="bold" stroke="#222" stroke-width="0.45" >0</text>
<text x="197.4" y="510.90000000000003" font-size="6.8" fill="#222" font-weight="bold" textLength="7.3" lengthAdjust="spacingAndGlyphs" stroke="#222" stroke-width="0.45" >10</text>
<text x="205.3" y="505.8" font-size="5.8" fill="#222" font-weight="bold" stroke="#222" stroke-width="0.45" >2</text>
<text x="222.4" y="510.90000000000003" font-size="6.8" fill="#222" font-weight="bold" textLength="7.3" lengthAdjust="spacingAndGlyphs" stroke="#222" stroke-width="0.45" >10</text>
<text x="230.3" y="505.8" font-size="5.8" fill="#222" font-weight="bold" stroke="#222" stroke-width="0.45" >4</text>
<text x="247.7" y="510.90000000000003" font-size="6.8" fill="#222" font-weight="bold" textLength="7.3" lengthAdjust="spacingAndGlyphs" stroke="#222" stroke-width="0.45" >10</text>
<text x="255.6" y="505.8" font-size="5.8" fill="#222" font-weight="bold" stroke="#222" stroke-width="0.45" >6</text>
<text x="64.6" y="302.3" font-size="9.8" fill="#000" font-weight="bold" textLength="38.8" lengthAdjust="spacingAndGlyphs" stroke="#000" stroke-width="0.45" >(-) BAFF</text>
<text x="65.2" y="414.7" font-size="9.8" fill="#cf2e3e" font-weight="bold" textLength="41.5" lengthAdjust="spacingAndGlyphs" stroke="#cf2e3e" stroke-width="0.45" >(+) BAFF</text>
<text x="85" y="360" font-size="10.5" fill="#000" font-weight="bold" textLength="20" lengthAdjust="spacingAndGlyphs" stroke="#000" stroke-width="0.45" >35.8</text>
<line x1="77.5" y1="364.8" x2="112.5" y2="364.8" stroke="#000" stroke-width="2.2" />
<text x="203.8" y="360" font-size="10.5" fill="#000" font-weight="bold" textLength="20" lengthAdjust="spacingAndGlyphs" stroke="#000" stroke-width="0.45" >6.83</text>
<line x1="195" y1="365" x2="232" y2="365" stroke="#000" stroke-width="2.2" />
<text x="85" y="468.3" font-size="10.5" fill="#000" font-weight="bold" textLength="20.3" lengthAdjust="spacingAndGlyphs" stroke="#000" stroke-width="0.45" >55.6</text>
<line x1="77.3" y1="474" x2="112.8" y2="474" stroke="#000" stroke-width="2.2" />
<text x="203.3" y="468.5" font-size="10.5" fill="#000" font-weight="bold" textLength="20.5" lengthAdjust="spacingAndGlyphs" stroke="#000" stroke-width="0.45" >5.46</text>
<line x1="195" y1="473.8" x2="232" y2="473.8" stroke="#000" stroke-width="2.2" />
<text transform="translate(35.6,501.1) rotate(-90)" font-size="10.7" font-weight="bold" stroke="#000" stroke-width="0.45" textLength="52.4" lengthAdjust="spacingAndGlyphs">cell count</text>
<path d="M31.5,524.8 V508.5 M30.5,524.8 H46.5" stroke="#000" stroke-width="2.1" fill="none"/>
<path d="M28.2,509.6 L31.5,504.4 L34.8,509.6 Z" fill="#000"/>
<path d="M45.5,521.5 L51,524.8 L45.5,528.1 Z" fill="#000"/>
<text x="53.4" y="528.2" font-size="11.2" fill="#000" font-weight="bold" textLength="30.8" lengthAdjust="spacingAndGlyphs" stroke="#000" stroke-width="0.45" >7AAD</text>
<line x1="356" y1="292.2" x2="356" y2="377" stroke="#000" stroke-width="1.3" />
<line x1="355.3" y1="376.3" x2="444" y2="376.3" stroke="#000" stroke-width="1.3" />
<line x1="352.6" y1="376.3" x2="356" y2="376.3" stroke="#000" stroke-width="1.2" />
<text x="344.7" y="379.90000000000003" font-size="10.4" fill="#000" font-weight="bold" text-anchor="end" textLength="5.3" lengthAdjust="spacingAndGlyphs" stroke="#000" stroke-width="0.45" >0</text>
<line x1="352.6" y1="348.5" x2="356" y2="348.5" stroke="#000" stroke-width="1.2" />
<text x="344.7" y="352.1" font-size="10.4" fill="#000" font-weight="bold" text-anchor="end" textLength="10.7" lengthAdjust="spacingAndGlyphs" stroke="#000" stroke-width="0.45" >10</text>
<line x1="352.6" y1="321" x2="356" y2="321" stroke="#000" stroke-width="1.2" />
<text x="344.7" y="324.6" font-size="10.4" fill="#000" font-weight="bold" text-anchor="end" textLength="10.7" lengthAdjust="spacingAndGlyphs" stroke="#000" stroke-width="0.45" >20</text>
<line x1="352.6" y1="292.7" x2="356" y2="292.7" stroke="#000" stroke-width="1.2" />
<text x="344.7" y="296.3" font-size="10.4" fill="#000" font-weight="bold" text-anchor="end" textLength="10.7" lengthAdjust="spacingAndGlyphs" stroke="#000" stroke-width="0.45" >30</text>
<rect x="375.5" y="300" width="25.8" height="76.3" fill="#fff" stroke="#000" stroke-width="1.2" />
<rect x="401.3" y="301.8" width="26.2" height="74.5" fill="#808080" stroke="#000" stroke-width="1.2" />
<line x1="414.4" y1="300.6" x2="414.4" y2="302.8" stroke="#000" stroke-width="1" />
<text x="381.3" y="290.6" font-size="11.8" fill="#000" font-weight="bold" textLength="36.5" lengthAdjust="spacingAndGlyphs" stroke="#000" stroke-width="0.45" >T = 0hr</text>
<text transform="translate(322.7,374) rotate(-90)" font-size="10" font-weight="bold" stroke="#000" stroke-width="0.45" textLength="70.5" lengthAdjust="spacingAndGlyphs">live cells (x10<tspan font-size="6.20" dy="-3.80">5</tspan><tspan dy="3.80">)</tspan></text>
<rect x="446.5" y="287.5" width="6" height="5.6" fill="#fff" stroke="#000" stroke-width="1.4" />
<rect x="446.5" y="300" width="6" height="5.6" fill="#808080" stroke="#000" stroke-width="1.4" />
<text x="455.6" y="293.6" font-size="9.8" font-weight="bold" font-style="italic" stroke="#000" stroke-width="0.45" textLength="42.3" lengthAdjust="spacingAndGlyphs"><tspan>wild type</tspan></text>
<text x="455.6" y="306" font-size="9.8" font-weight="bold" font-style="italic" stroke="#000" stroke-width="0.45" textLength="54.8" lengthAdjust="spacingAndGlyphs"><tspan>Relb</tspan><tspan font-size="6.47" dy="-3.53">-/-</tspan><tspan dy="3.53">cRel</tspan><tspan font-size="6.47" dy="-3.53">-/-</tspan></text>
<line x1="355.5" y1="411" x2="355.5" y2="494.5" stroke="#000" stroke-width="1.3" />
<line x1="354.8" y1="494" x2="444" y2="494" stroke="#000" stroke-width="1.3" />
<line x1="352" y1="494" x2="355.5" y2="494" stroke="#000" stroke-width="1.2" />
<text x="344.7" y="497.6" font-size="10.4" fill="#000" font-weight="bold" text-anchor="end" textLength="14.2" lengthAdjust="spacingAndGlyphs" stroke="#000" stroke-width="0.45" >0.0</text>
<line x1="352" y1="466.7" x2="355.5" y2="466.7" stroke="#000" stroke-width="1.2" />
<text x="344.7" y="470.3" font-size="10.4" fill="#000" font-weight="bold" text-anchor="end" textLength="14.2" lengthAdjust="spacingAndGlyphs" stroke="#000" stroke-width="0.45" >2.0</text>
<line x1="352" y1="439.1" x2="355.5" y2="439.1" stroke="#000" stroke-width="1.2" />
<text x="344.7" y="442.70000000000005" font-size="10.4" fill="#000" font-weight="bold" text-anchor="end" textLength="14.2" lengthAdjust="spacingAndGlyphs" stroke="#000" stroke-width="0.45" >4.0</text>
<line x1="352" y1="411.5" x2="355.5" y2="411.5" stroke="#000" stroke-width="1.2" />
<text x="344.7" y="415.1" font-size="10.4" fill="#000" font-weight="bold" text-anchor="end" textLength="14.2" lengthAdjust="spacingAndGlyphs" stroke="#000" stroke-width="0.45" >6.0</text>
<line x1="400" y1="494" x2="400" y2="497" stroke="#000" stroke-width="1.1" />
<rect x="360" y="489.3" width="18" height="4.7" fill="#fff" stroke="#000" stroke-width="1.2" />
<line x1="369" y1="488.2" x2="369" y2="490" stroke="#000" stroke-width="1" />
<line x1="378" y1="493.5" x2="396.2" y2="493.5" stroke="#000" stroke-width="1.6" />
<rect x="403.8" y="448.8" width="18" height="45.2" fill="#fff" stroke="#000" stroke-width="1.2" />
<line x1="412.8" y1="436.3" x2="412.8" y2="462.5" stroke="#000" stroke-width="1.1" />
<line x1="410.5" y1="436.3" x2="415.1" y2="436.3" stroke="#000" stroke-width="1.1" />
<line x1="410.5" y1="462.5" x2="415.1" y2="462.5" stroke="#000" stroke-width="1.1" />
<line x1="421.8" y1="493.5" x2="440" y2="493.5" stroke="#000" stroke-width="1.6" />
<path d="M369.3,483.5 V480.2 H388 V483.5" stroke="#000" stroke-width="1.3" fill="none"/>
<path d="M412,434.6 V431.3 H430.5 V434.6" stroke="#000" stroke-width="1.3" fill="none"/>
<text x="378.6" y="478" font-size="8.5" fill="#000" font-weight="bold" text-anchor="middle" textLength="12" lengthAdjust="spacingAndGlyphs" stroke="#000" stroke-width="0.45" >***</text>
<text x="421.2" y="429.2" font-size="8.5" fill="#000" font-weight="bold" text-anchor="middle" textLength="12" lengthAdjust="spacingAndGlyphs" stroke="#000" stroke-width="0.45" >***</text>
<text x="377.5" y="414.3" font-size="11.8" fill="#000" font-weight="bold" textLength="44" lengthAdjust="spacingAndGlyphs" stroke="#000" stroke-width="0.45" >T = 40hr</text>
<text transform="translate(322.7,488.6) rotate(-90)" font-size="10" font-weight="bold" stroke="#000" stroke-width="0.45" textLength="71" lengthAdjust="spacingAndGlyphs">live cells (x10<tspan font-size="6.20" dy="-3.80">5</tspan><tspan dy="3.80">)</tspan></text>
<text x="361" y="508.6" font-size="9.2" fill="#000" font-weight="bold" textLength="33.8" lengthAdjust="spacingAndGlyphs" stroke="#000" stroke-width="0.45" >(-) BAFF</text>
<text x="404.3" y="508.6" font-size="9.2" fill="#000" font-weight="bold" textLength="35.8" lengthAdjust="spacingAndGlyphs" stroke="#000" stroke-width="0.45" >(+) BAFF</text>
<rect x="447.3" y="405" width="6" height="5.3" fill="#fff" stroke="#000" stroke-width="1.4" />
<rect x="447.3" y="417.2" width="6" height="5.3" fill="#808080" stroke="#000" stroke-width="1.4" />
<text x="455.4" y="411" font-size="9.8" font-weight="bold" font-style="italic" stroke="#000" stroke-width="0.45" textLength="42.6" lengthAdjust="spacingAndGlyphs"><tspan>wild type</tspan></text>
<text x="455.4" y="423.2" font-size="9.8" font-weight="bold" font-style="italic" stroke="#000" stroke-width="0.45" textLength="54.8" lengthAdjust="spacingAndGlyphs"><tspan>Relb</tspan><tspan font-size="6.47" dy="-3.53">-/-</tspan><tspan dy="3.53">cRel</tspan><tspan font-size="6.47" dy="-3.53">-/-</tspan></text>
<text x="7" y="574" font-size="16.5" fill="#000" font-weight="bold" stroke="#000" stroke-width="0.45" >C</text>
<text x="19.3" y="604.2" font-size="11.3" font-weight="bold" font-style="italic" stroke="#000" stroke-width="0.45" textLength="53" lengthAdjust="spacingAndGlyphs"><tspan>wild type</tspan></text>
<text x="86.8" y="604.2" font-size="11.3" font-weight="bold" font-style="italic" stroke="#000" stroke-width="0.45" textLength="33.8" lengthAdjust="spacingAndGlyphs"><tspan>cRel</tspan><tspan font-size="7.46" dy="-4.07">-/-</tspan></text>
<text x="125" y="588.5" font-size="11.3" font-weight="bold" font-style="italic" stroke="#000" stroke-width="0.45" textLength="29" lengthAdjust="spacingAndGlyphs"><tspan>Relb</tspan><tspan font-size="7.46" dy="-4.07">-/-</tspan></text>
<text x="125.3" y="604.2" font-size="11.3" font-weight="bold" font-style="italic" stroke="#000" stroke-width="0.45" textLength="30" lengthAdjust="spacingAndGlyphs"><tspan>cRel</tspan><tspan font-size="7.46" dy="-4.07">-/-</tspan></text>
<line x1="11.2" y1="611.7" x2="79.6" y2="611.7" stroke="#000" stroke-width="2" />
<line x1="85" y1="611.7" x2="121.1" y2="611.7" stroke="#000" stroke-width="2" />
<line x1="123.5" y1="611.7" x2="159" y2="611.7" stroke="#000" stroke-width="2" />
<text x="26.7" y="625" font-size="11.2" fill="#000" font-weight="bold" text-anchor="middle" textLength="6.2" lengthAdjust="spacingAndGlyphs" stroke="#000" stroke-width="0.45" >6</text>
<text x="65" y="625" font-size="11.2" fill="#000" font-weight="bold" text-anchor="middle" textLength="12.8" lengthAdjust="spacingAndGlyphs" stroke="#000" stroke-width="0.45" >27</text>
<text x="102.5" y="625" font-size="11.2" fill="#000" font-weight="bold" text-anchor="middle" textLength="6.2" lengthAdjust="spacingAndGlyphs" stroke="#000" stroke-width="0.45" >6</text>
<text x="140.5" y="625" font-size="11.2" fill="#000" font-weight="bold" text-anchor="middle" textLength="6.2" lengthAdjust="spacingAndGlyphs" stroke="#000" stroke-width="0.45" >6</text>
<text x="162.5" y="625" font-size="11.2" fill="#000" font-weight="bold" textLength="18" lengthAdjust="spacingAndGlyphs" stroke="#000" stroke-width="0.45" >(hr)</text>
<rect x="7.8" y="628" width="38.0" height="3.0" fill="#f78d90" shape-rendering="crispEdges"/>
<rect x="7.8" y="631" width="38.0" height="3.0" fill="#f9aaac" shape-rendering="crispEdges"/>
<rect x="7.8" y="634" width="38.0" height="3.0" fill="#f78d90" shape-rendering="crispEdges"/>
<rect x="7.8" y="637" width="38.0" height="4.0" fill="#f67f82" shape-rendering="crispEdges"/>
<rect x="7.8" y="641" width="38.0" height="3.0" fill="#f89b9e" shape-rendering="crispEdges"/>
<rect x="7.8" y="644" width="38.0" height="3.0" fill="#f46367" shape-rendering="crispEdges"/>
<rect x="7.8" y="647" width="38.0" height="3.0" fill="#f78d90" shape-rendering="crispEdges"/>
<rect x="7.8" y="650" width="38.0" height="3.0" fill="#f89b9e" shape-rendering="crispEdges"/>
<rect x="7.8" y="653" width="38.0" height="4.0" fill="#fab8ba" shape-rendering="crispEdges"/>
<rect x="7.8" y="657" width="38.0" height="2.0" fill="#f57174" shape-rendering="crispEdges"/>
<rect x="7.8" y="659" width="38.0" height="4.0" fill="#f2464b" shape-rendering="crispEdges"/>
<rect x="7.8" y="663" width="38.0" height="3.0" fill="#f78d90" shape-rendering="crispEdges"/>
<rect x="7.8" y="666" width="38.0" height="3.0" fill="#f9aaac" shape-rendering="crispEdges"/>
<rect x="7.8" y="669" width="38.0" height="4.0" fill="#f89b9e" shape-rendering="crispEdges"/>
<rect x="7.8" y="673" width="38.0" height="4.0" fill="#f9aaac" shape-rendering="crispEdges"/>
<rect x="7.8" y="677" width="38.0" height="3.0" fill="#fab8ba" shape-rendering="crispEdges"/>
<rect x="7.8" y="680" width="38.0" height="2.0" fill="#f78d90" shape-rendering="crispEdges"/>
<rect x="7.8" y="682" width="38.0" height="4.0" fill="#f67f82" shape-rendering="crispEdges"/>
<rect x="7.8" y="686" width="38.0" height="3.0" fill="#fcd4d5" shape-rendering="crispEdges"/>
<rect x="7.8" y="689" width="38.0" height="4.0" fill="#fbc6c8" shape-rendering="crispEdges"/>
<rect x="7.8" y="693" width="38.0" height="3.0" fill="#fcd4d5" shape-rendering="crispEdges"/>
<rect x="7.8" y="696" width="38.0" height="3.0" fill="#fdddde" shape-rendering="crispEdges"/>
<rect x="7.8" y="699" width="38.0" height="4.0" fill="#fef1f1" shape-rendering="crispEdges"/>
<rect x="7.8" y="703" width="38.0" height="4.0" fill="#fff9f9" shape-rendering="crispEdges"/>
<rect x="7.8" y="707" width="38.0" height="3.0" fill="#f46367" shape-rendering="crispEdges"/>
<rect x="7.8" y="710" width="38.0" height="6.0" fill="#f57174" shape-rendering="crispEdges"/>
<rect x="7.8" y="716" width="38.0" height="4.0" fill="#ee1218" shape-rendering="crispEdges"/>
<rect x="7.8" y="720" width="38.0" height="2.5" fill="#f02a2f" shape-rendering="crispEdges"/>
<rect x="7.8" y="725.4" width="38.0" height="4.6" fill="#f89b9e" shape-rendering="crispEdges"/>
<rect x="7.8" y="730" width="38.0" height="5.0" fill="#f78d90" shape-rendering="crispEdges"/>
<rect x="7.8" y="735" width="38.0" height="3.0" fill="#f67f82" shape-rendering="crispEdges"/>
<rect x="7.8" y="738" width="38.0" height="4.0" fill="#f78d90" shape-rendering="crispEdges"/>
<rect x="7.8" y="742" width="38.0" height="4.0" fill="#f57174" shape-rendering="crispEdges"/>
<rect x="7.8" y="746" width="38.0" height="4.0" fill="#f46367" shape-rendering="crispEdges"/>
<rect x="7.8" y="750" width="38.0" height="4.0" fill="#f67f82" shape-rendering="crispEdges"/>
<rect x="7.8" y="754" width="38.0" height="3.0" fill="#f57174" shape-rendering="crispEdges"/>
<rect x="7.8" y="757" width="38.0" height="3.0" fill="#f78d90" shape-rendering="crispEdges"/>
<rect x="7.8" y="760" width="38.0" height="4.0" fill="#f67f82" shape-rendering="crispEdges"/>
<rect x="7.8" y="764" width="38.0" height="3.0" fill="#f89b9e" shape-rendering="crispEdges"/>
<rect x="7.8" y="767" width="38.0" height="4.0" fill="#f67f82" shape-rendering="crispEdges"/>
<rect x="7.8" y="771" width="38.0" height="3.0" fill="#f67f82" shape-rendering="crispEdges"/>
<rect x="7.8" y="774" width="38.0" height="4.0" fill="#f57174" shape-rendering="crispEdges"/>
<rect x="7.8" y="778" width="38.0" height="4.0" fill="#f67f82" shape-rendering="crispEdges"/>
<rect x="7.8" y="782" width="38.0" height="4.0" fill="#f9aaac" shape-rendering="crispEdges"/>
<rect x="7.8" y="786" width="38.0" height="4.0" fill="#f89b9e" shape-rendering="crispEdges"/>
<rect x="7.8" y="790" width="38.0" height="4.0" fill="#fab8ba" shape-rendering="crispEdges"/>
<rect x="7.8" y="794" width="38.0" height="3.0" fill="#f78d90" shape-rendering="crispEdges"/>
<rect x="7.8" y="797" width="38.0" height="4.0" fill="#f46367" shape-rendering="crispEdges"/>
<rect x="7.8" y="801" width="38.0" height="3.0" fill="#f67f82" shape-rendering="crispEdges"/>
<rect x="7.8" y="804" width="38.0" height="4.0" fill="#f35459" shape-rendering="crispEdges"/>
<rect x="7.8" y="808" width="38.0" height="3.0" fill="#f02a2f" shape-rendering="crispEdges"/>
<rect x="7.8" y="811" width="38.0" height="4.0" fill="#f9aaac" shape-rendering="crispEdges"/>
<rect x="7.8" y="815" width="38.0" height="3.0" fill="#fde3e3" shape-rendering="crispEdges"/>
<rect x="7.8" y="818" width="38.0" height="1.5" fill="#fef1f1" shape-rendering="crispEdges"/>
<rect x="7.8" y="825.2" width="38.0" height="3.8" fill="#f67f82" shape-rendering="crispEdges"/>
<rect x="7.8" y="829" width="38.0" height="4.0" fill="#f78d90" shape-rendering="crispEdges"/>
<rect x="7.8" y="833" width="38.0" height="4.0" fill="#f89b9e" shape-rendering="crispEdges"/>
<rect x="7.8" y="837" width="38.0" height="4.0" fill="#f9aaac" shape-rendering="crispEdges"/>
<rect x="7.8" y="841" width="38.0" height="4.0" fill="#f89b9e" shape-rendering="crispEdges"/>
<rect x="7.8" y="845" width="38.0" height="4.0" fill="#f67f82" shape-rendering="crispEdges"/>
<rect x="7.8" y="849" width="38.0" height="3.0" fill="#f78d90" shape-rendering="crispEdges"/>
<rect x="7.8" y="852" width="38.0" height="5.0" fill="#fab8ba" shape-rendering="crispEdges"/>
<rect x="7.8" y="857" width="38.0" height="3.0" fill="#f35459" shape-rendering="crispEdges"/>
<rect x="7.8" y="860" width="38.0" height="4.0" fill="#f46367" shape-rendering="crispEdges"/>
<rect x="7.8" y="864" width="38.0" height="3.0" fill="#f67f82" shape-rendering="crispEdges"/>
<rect x="7.8" y="867" width="38.0" height="4.0" fill="#f57174" shape-rendering="crispEdges"/>
<rect x="7.8" y="871" width="38.0" height="2.0" fill="#f46367" shape-rendering="crispEdges"/>
<rect x="7.8" y="873" width="38.0" height="4.0" fill="#f46367" shape-rendering="crispEdges"/>
<rect x="7.8" y="877" width="38.0" height="3.0" fill="#f02a2f" shape-rendering="crispEdges"/>
<rect x="7.8" y="880" width="38.0" height="4.0" fill="#f57174" shape-rendering="crispEdges"/>
<rect x="7.8" y="884" width="38.0" height="4.0" fill="#f67f82" shape-rendering="crispEdges"/>
<rect x="7.8" y="888" width="38.0" height="3.0" fill="#f46367" shape-rendering="crispEdges"/>
<rect x="7.8" y="891" width="38.0" height="3.0" fill="#f67f82" shape-rendering="crispEdges"/>
<rect x="7.8" y="894" width="38.0" height="3.0" fill="#fdddde" shape-rendering="crispEdges"/>
<rect x="7.8" y="897" width="38.0" height="3.0" fill="#fde8e9" shape-rendering="crispEdges"/>
<rect x="7.8" y="900" width="38.0" height="3.0" fill="#f9aaac" shape-rendering="crispEdges"/>
<rect x="7.8" y="903" width="38.0" height="4.0" fill="#f89b9e" shape-rendering="crispEdges"/>
<rect x="7.8" y="907" width="38.0" height="4.0" fill="#f9aaac" shape-rendering="crispEdges"/>
<rect x="7.8" y="911" width="38.0" height="2.0" fill="#f78d90" shape-rendering="crispEdges"/>
<rect x="7.8" y="913" width="38.0" height="3.0" fill="#fef1f1" shape-rendering="crispEdges"/>
<rect x="7.8" y="916" width="38.0" height="4.3" fill="#ee1218" shape-rendering="crispEdges"/>
<rect x="45.8" y="628" width="37.8" height="5.0" fill="#f57174" shape-rendering="crispEdges"/>
<rect x="45.8" y="633" width="37.8" height="4.0" fill="#f67f82" shape-rendering="crispEdges"/>
<rect x="45.8" y="637" width="37.8" height="4.0" fill="#f57174" shape-rendering="crispEdges"/>
<rect x="45.8" y="641" width="37.8" height="3.0" fill="#f89b9e" shape-rendering="crispEdges"/>
<rect x="45.8" y="644" width="37.8" height="4.0" fill="#f2464b" shape-rendering="crispEdges"/>
<rect x="45.8" y="648" width="37.8" height="4.0" fill="#f46367" shape-rendering="crispEdges"/>
<rect x="45.8" y="652" width="37.8" height="5.0" fill="#f35459" shape-rendering="crispEdges"/>
<rect x="45.8" y="657" width="37.8" height="3.0" fill="#f1383d" shape-rendering="crispEdges"/>
<rect x="45.8" y="660" width="37.8" height="5.0" fill="#ee1218" shape-rendering="crispEdges"/>
<rect x="45.8" y="665" width="37.8" height="3.0" fill="#f46367" shape-rendering="crispEdges"/>
<rect x="45.8" y="668" width="37.8" height="5.0" fill="#f67f82" shape-rendering="crispEdges"/>
<rect x="45.8" y="673" width="37.8" height="1.0" fill="#f67f82" shape-rendering="crispEdges"/>
<rect x="45.8" y="674" width="37.8" height="4.0" fill="#f46367" shape-rendering="crispEdges"/>
<rect x="45.8" y="678" width="37.8" height="5.0" fill="#f57174" shape-rendering="crispEdges"/>
<rect x="45.8" y="683" width="37.8" height="4.0" fill="#fef1f1" shape-rendering="crispEdges"/>
<rect x="45.8" y="687" width="37.8" height="3.0" fill="#f78d90" shape-rendering="crispEdges"/>
<rect x="45.8" y="690" width="37.8" height="4.0" fill="#f57174" shape-rendering="crispEdges"/>
<rect x="45.8" y="694" width="37.8" height="3.0" fill="#f46367" shape-rendering="crispEdges"/>
<rect x="45.8" y="697" width="37.8" height="4.0" fill="#f67f82" shape-rendering="crispEdges"/>
<rect x="45.8" y="701" width="37.8" height="4.0" fill="#f46367" shape-rendering="crispEdges"/>
<rect x="45.8" y="705" width="37.8" height="3.0" fill="#f78d90" shape-rendering="crispEdges"/>
<rect x="45.8" y="708" width="37.8" height="4.0" fill="#f67f82" shape-rendering="crispEdges"/>
<rect x="45.8" y="712" width="37.8" height="4.0" fill="#fde3e3" shape-rendering="crispEdges"/>
<rect x="45.8" y="716" width="37.8" height="3.0" fill="#f9aaac" shape-rendering="crispEdges"/>
<rect x="45.8" y="719" width="37.8" height="3.5" fill="#ee1218" shape-rendering="crispEdges"/>
<rect x="45.8" y="725.4" width="37.8" height="4.6" fill="#f89b9e" shape-rendering="crispEdges"/>
<rect x="45.8" y="730" width="37.8" height="3.0" fill="#f67f82" shape-rendering="crispEdges"/>
<rect x="45.8" y="733" width="37.8" height="3.0" fill="#f89b9e" shape-rendering="crispEdges"/>
<rect x="45.8" y="736" width="37.8" height="4.0" fill="#f9aaac" shape-rendering="crispEdges"/>
<rect x="45.8" y="740" width="37.8" height="4.0" fill="#f67f82" shape-rendering="crispEdges"/>
<rect x="45.8" y="744" width="37.8" height="4.0" fill="#f89b9e" shape-rendering="crispEdges"/>
<rect x="45.8" y="748" width="37.8" height="4.0" fill="#fab8ba" shape-rendering="crispEdges"/>
<rect x="45.8" y="752" width="37.8" height="4.0" fill="#fbc6c8" shape-rendering="crispEdges"/>
<rect x="45.8" y="756" width="37.8" height="4.0" fill="#f9aaac" shape-rendering="crispEdges"/>
<rect x="45.8" y="760" width="37.8" height="5.0" fill="#f35459" shape-rendering="crispEdges"/>
<rect x="45.8" y="765" width="37.8" height="5.0" fill="#f46367" shape-rendering="crispEdges"/>
<rect x="45.8" y="770" width="37.8" height="4.0" fill="#f57174" shape-rendering="crispEdges"/>
<rect x="45.8" y="774" width="37.8" height="4.0" fill="#f2464b" shape-rendering="crispEdges"/>
<rect x="45.8" y="778" width="37.8" height="4.0" fill="#f67f82" shape-rendering="crispEdges"/>
<rect x="45.8" y="782" width="37.8" height="4.0" fill="#f78d90" shape-rendering="crispEdges"/>
<rect x="45.8" y="786" width="37.8" height="4.0" fill="#f67f82" shape-rendering="crispEdges"/>
<rect x="45.8" y="790" width="37.8" height="4.0" fill="#f89b9e" shape-rendering="crispEdges"/>
<rect x="45.8" y="794" width="37.8" height="4.0" fill="#f46367" shape-rendering="crispEdges"/>
<rect x="45.8" y="798" width="37.8" height="3.0" fill="#f67f82" shape-rendering="crispEdges"/>
<rect x="45.8" y="801" width="37.8" height="4.0" fill="#fef6f7" shape-rendering="crispEdges"/>
<rect x="45.8" y="805" width="37.8" height="3.0" fill="#f67f82" shape-rendering="crispEdges"/>
<rect x="45.8" y="808" width="37.8" height="4.0" fill="#ee1218" shape-rendering="crispEdges"/>
<rect x="45.8" y="812" width="37.8" height="3.0" fill="#f67f82" shape-rendering="crispEdges"/>
<rect x="45.8" y="815" width="37.8" height="4.5" fill="#f9aaac" shape-rendering="crispEdges"/>
<rect x="45.8" y="825.2" width="37.8" height="5.8" fill="#f35459" shape-rendering="crispEdges"/>
<rect x="45.8" y="831" width="37.8" height="3.0" fill="#f67f82" shape-rendering="crispEdges"/>
<rect x="45.8" y="834" width="37.8" height="4.0" fill="#f57174" shape-rendering="crispEdges"/>
<rect x="45.8" y="838" width="37.8" height="5.0" fill="#f46367" shape-rendering="crispEdges"/>
<rect x="45.8" y="843" width="37.8" height="3.0" fill="#f89b9e" shape-rendering="crispEdges"/>
<rect x="45.8" y="846" width="37.8" height="4.0" fill="#f78d90" shape-rendering="crispEdges"/>
<rect x="45.8" y="850" width="37.8" height="3.0" fill="#f9aaac" shape-rendering="crispEdges"/>
<rect x="45.8" y="853" width="37.8" height="3.0" fill="#f89b9e" shape-rendering="crispEdges"/>
<rect x="45.8" y="856" width="37.8" height="3.0" fill="#fcd4d5" shape-rendering="crispEdges"/>
<rect x="45.8" y="859" width="37.8" height="3.0" fill="#f9aaac" shape-rendering="crispEdges"/>
<rect x="45.8" y="862" width="37.8" height="4.0" fill="#fbc6c8" shape-rendering="crispEdges"/>
<rect x="45.8" y="866" width="37.8" height="3.0" fill="#f9aaac" shape-rendering="crispEdges"/>
<rect x="45.8" y="869" width="37.8" height="6.0" fill="#fef1f1" shape-rendering="crispEdges"/>
<rect x="45.8" y="875" width="37.8" height="3.0" fill="#f02a2f" shape-rendering="crispEdges"/>
<rect x="45.8" y="878" width="37.8" height="4.0" fill="#f67f82" shape-rendering="crispEdges"/>
<rect x="45.8" y="882" width="37.8" height="4.0" fill="#f67f82" shape-rendering="crispEdges"/>
<rect x="45.8" y="886" width="37.8" height="3.0" fill="#f78d90" shape-rendering="crispEdges"/>
<rect x="45.8" y="889" width="37.8" height="4.0" fill="#ee1218" shape-rendering="crispEdges"/>
<rect x="45.8" y="893" width="37.8" height="4.0" fill="#f78d90" shape-rendering="crispEdges"/>
<rect x="45.8" y="897" width="37.8" height="4.0" fill="#f67f82" shape-rendering="crispEdges"/>
<rect x="45.8" y="901" width="37.8" height="3.0" fill="#f89b9e" shape-rendering="crispEdges"/>
<rect x="45.8" y="904" width="37.8" height="3.0" fill="#f57174" shape-rendering="crispEdges"/>
<rect x="45.8" y="907" width="37.8" height="3.0" fill="#f9aaac" shape-rendering="crispEdges"/>
<rect x="45.8" y="910" width="37.8" height="4.0" fill="#f78d90" shape-rendering="crispEdges"/>
<rect x="45.8" y="914" width="37.8" height="3.0" fill="#f67f82" shape-rendering="crispEdges"/>
<rect x="45.8" y="917" width="37.8" height="3.3" fill="#ee1218" shape-rendering="crispEdges"/>
<rect x="83.6" y="628" width="38.2" height="4.0" fill="#f67f82" shape-rendering="crispEdges"/>
<rect x="83.6" y="632" width="38.2" height="4.0" fill="#f78d90" shape-rendering="crispEdges"/>
<rect x="83.6" y="636" width="38.2" height="4.0" fill="#f67f82" shape-rendering="crispEdges"/>
<rect x="83.6" y="640" width="38.2" height="4.0" fill="#f57174" shape-rendering="crispEdges"/>
<rect x="83.6" y="644" width="38.2" height="3.0" fill="#f89b9e" shape-rendering="crispEdges"/>
<rect x="83.6" y="647" width="38.2" height="4.0" fill="#fab8ba" shape-rendering="crispEdges"/>
<rect x="83.6" y="651" width="38.2" height="4.0" fill="#f78d90" shape-rendering="crispEdges"/>
<rect x="83.6" y="655" width="38.2" height="4.0" fill="#f57174" shape-rendering="crispEdges"/>
<rect x="83.6" y="659" width="38.2" height="3.0" fill="#f46367" shape-rendering="crispEdges"/>
<rect x="83.6" y="662" width="38.2" height="4.0" fill="#f9aaac" shape-rendering="crispEdges"/>
<rect x="83.6" y="666" width="38.2" height="4.0" fill="#f9aaac" shape-rendering="crispEdges"/>
<rect x="83.6" y="670" width="38.2" height="4.0" fill="#f9aaac" shape-rendering="crispEdges"/>
<rect x="83.6" y="674" width="38.2" height="4.0" fill="#fab8ba" shape-rendering="crispEdges"/>
<rect x="83.6" y="678" width="38.2" height="4.0" fill="#f9aaac" shape-rendering="crispEdges"/>
<rect x="83.6" y="682" width="38.2" height="3.0" fill="#f89b9e" shape-rendering="crispEdges"/>
<rect x="83.6" y="685" width="38.2" height="4.0" fill="#fcd4d5" shape-rendering="crispEdges"/>
<rect x="83.6" y="689" width="38.2" height="4.0" fill="#fbc6c8" shape-rendering="crispEdges"/>
<rect x="83.6" y="693" width="38.2" height="4.0" fill="#fcd4d5" shape-rendering="crispEdges"/>
<rect x="83.6" y="697" width="38.2" height="3.0" fill="#fbc6c8" shape-rendering="crispEdges"/>
<rect x="83.6" y="700" width="38.2" height="3.0" fill="#fde8e9" shape-rendering="crispEdges"/>
<rect x="83.6" y="703" width="38.2" height="4.0" fill="#edeefd" shape-rendering="crispEdges"/>
<rect x="83.6" y="707" width="38.2" height="3.0" fill="#f78d90" shape-rendering="crispEdges"/>
<rect x="83.6" y="710" width="38.2" height="4.0" fill="#f2464b" shape-rendering="crispEdges"/>
<rect x="83.6" y="714" width="38.2" height="4.0" fill="#f1383d" shape-rendering="crispEdges"/>
<rect x="83.6" y="718" width="38.2" height="4.5" fill="#ef1b21" shape-rendering="crispEdges"/>
<rect x="83.6" y="725.4" width="38.2" height="4.6" fill="#fab8ba" shape-rendering="crispEdges"/>
<rect x="83.6" y="730" width="38.2" height="5.0" fill="#f9aaac" shape-rendering="crispEdges"/>
<rect x="83.6" y="735" width="38.2" height="5.0" fill="#fab8ba" shape-rendering="crispEdges"/>
<rect x="83.6" y="740" width="38.2" height="5.0" fill="#f9aaac" shape-rendering="crispEdges"/>
<rect x="83.6" y="745" width="38.2" height="5.0" fill="#fab8ba" shape-rendering="crispEdges"/>
<rect x="83.6" y="750" width="38.2" height="5.0" fill="#f9aaac" shape-rendering="crispEdges"/>
<rect x="83.6" y="755" width="38.2" height="3.0" fill="#fcd4d5" shape-rendering="crispEdges"/>
<rect x="83.6" y="758" width="38.2" height="4.0" fill="#fab8ba" shape-rendering="crispEdges"/>
<rect x="83.6" y="762" width="38.2" height="4.0" fill="#f9aaac" shape-rendering="crispEdges"/>
<rect x="83.6" y="766" width="38.2" height="4.0" fill="#fab8ba" shape-rendering="crispEdges"/>
<rect x="83.6" y="770" width="38.2" height="4.0" fill="#fbc6c8" shape-rendering="crispEdges"/>
<rect x="83.6" y="774" width="38.2" height="3.0" fill="#fde3e3" shape-rendering="crispEdges"/>
<rect x="83.6" y="777" width="38.2" height="4.0" fill="#fef6f7" shape-rendering="crispEdges"/>
<rect x="83.6" y="781" width="38.2" height="4.0" fill="#fcd4d5" shape-rendering="crispEdges"/>
<rect x="83.6" y="785" width="38.2" height="4.0" fill="#fde3e3" shape-rendering="crispEdges"/>
<rect x="83.6" y="789" width="38.2" height="4.0" fill="#fcd4d5" shape-rendering="crispEdges"/>
<rect x="83.6" y="793" width="38.2" height="4.0" fill="#f78d90" shape-rendering="crispEdges"/>
<rect x="83.6" y="797" width="38.2" height="4.0" fill="#f67f82" shape-rendering="crispEdges"/>
<rect x="83.6" y="801" width="38.2" height="3.0" fill="#f9aaac" shape-rendering="crispEdges"/>
<rect x="83.6" y="804" width="38.2" height="4.0" fill="#f89b9e" shape-rendering="crispEdges"/>
<rect x="83.6" y="808" width="38.2" height="3.0" fill="#f78d90" shape-rendering="crispEdges"/>
<rect x="83.6" y="811" width="38.2" height="4.0" fill="#fde3e3" shape-rendering="crispEdges"/>
<rect x="83.6" y="815" width="38.2" height="2.0" fill="#e4e6fb" shape-rendering="crispEdges"/>
<rect x="83.6" y="817" width="38.2" height="2.5" fill="#c7caf7" shape-rendering="crispEdges"/>
<rect x="83.6" y="825.2" width="38.2" height="4.8" fill="#f78d90" shape-rendering="crispEdges"/>
<rect x="83.6" y="830" width="38.2" height="4.0" fill="#f67f82" shape-rendering="crispEdges"/>
<rect x="83.6" y="834" width="38.2" height="4.0" fill="#f89b9e" shape-rendering="crispEdges"/>
<rect x="83.6" y="838" width="38.2" height="4.0" fill="#f9aaac" shape-rendering="crispEdges"/>
<rect x="83.6" y="842" width="38.2" height="4.0" fill="#f89b9e" shape-rendering="crispEdges"/>
<rect x="83.6" y="846" width="38.2" height="4.0" fill="#f9aaac" shape-rendering="crispEdges"/>
<rect x="83.6" y="850" width="38.2" height="3.0" fill="#f78d90" shape-rendering="crispEdges"/>
<rect x="83.6" y="853" width="38.2" height="4.0" fill="#f9aaac" shape-rendering="crispEdges"/>
<rect x="83.6" y="857" width="38.2" height="3.0" fill="#fcd4d5" shape-rendering="crispEdges"/>
<rect x="83.6" y="860" width="38.2" height="4.0" fill="#f67f82" shape-rendering="crispEdges"/>
<rect x="83.6" y="864" width="38.2" height="4.0" fill="#f78d90" shape-rendering="crispEdges"/>
<rect x="83.6" y="868" width="38.2" height="2.0" fill="#f67f82" shape-rendering="crispEdges"/>
<rect x="83.6" y="870" width="38.2" height="4.0" fill="#f57174" shape-rendering="crispEdges"/>
<rect x="83.6" y="874" width="38.2" height="4.0" fill="#f35459" shape-rendering="crispEdges"/>
<rect x="83.6" y="878" width="38.2" height="4.0" fill="#f46367" shape-rendering="crispEdges"/>
<rect x="83.6" y="882" width="38.2" height="4.0" fill="#f57174" shape-rendering="crispEdges"/>
<rect x="83.6" y="886" width="38.2" height="4.0" fill="#f46367" shape-rendering="crispEdges"/>
<rect x="83.6" y="890" width="38.2" height="3.0" fill="#f67f82" shape-rendering="crispEdges"/>
<rect x="83.6" y="893" width="38.2" height="4.0" fill="#fde3e3" shape-rendering="crispEdges"/>
<rect x="83.6" y="897" width="38.2" height="4.0" fill="#fcd4d5" shape-rendering="crispEdges"/>
<rect x="83.6" y="901" width="38.2" height="3.0" fill="#fbc6c8" shape-rendering="crispEdges"/>
<rect x="83.6" y="904" width="38.2" height="3.0" fill="#fef1f1" shape-rendering="crispEdges"/>
<rect x="83.6" y="907" width="38.2" height="3.0" fill="#fde3e3" shape-rendering="crispEdges"/>
<rect x="83.6" y="910" width="38.2" height="3.0" fill="#dddffa" shape-rendering="crispEdges"/>
<rect x="83.6" y="913" width="38.2" height="3.0" fill="#d2d5f9" shape-rendering="crispEdges"/>
<rect x="83.6" y="916" width="38.2" height="4.3" fill="#ee1218" shape-rendering="crispEdges"/>
<rect x="121.8" y="628" width="38.2" height="5.0" fill="#f89b9e" shape-rendering="crispEdges"/>
<rect x="121.8" y="633" width="38.2" height="4.0" fill="#f78d90" shape-rendering="crispEdges"/>
<rect x="121.8" y="637" width="38.2" height="4.0" fill="#f67f82" shape-rendering="crispEdges"/>
<rect x="121.8" y="641" width="38.2" height="4.0" fill="#f57174" shape-rendering="crispEdges"/>
<rect x="121.8" y="645" width="38.2" height="3.0" fill="#f78d90" shape-rendering="crispEdges"/>
<rect x="121.8" y="648" width="38.2" height="4.0" fill="#f9aaac" shape-rendering="crispEdges"/>
<rect x="121.8" y="652" width="38.2" height="3.0" fill="#f89b9e" shape-rendering="crispEdges"/>
<rect x="121.8" y="655" width="38.2" height="4.0" fill="#f67f82" shape-rendering="crispEdges"/>
<rect x="121.8" y="659" width="38.2" height="3.0" fill="#f35459" shape-rendering="crispEdges"/>
<rect x="121.8" y="662" width="38.2" height="4.0" fill="#f57174" shape-rendering="crispEdges"/>
<rect x="121.8" y="666" width="38.2" height="4.0" fill="#fab8ba" shape-rendering="crispEdges"/>
<rect x="121.8" y="670" width="38.2" height="4.0" fill="#fab8ba" shape-rendering="crispEdges"/>
<rect x="121.8" y="674" width="38.2" height="4.0" fill="#f9aaac" shape-rendering="crispEdges"/>
<rect x="121.8" y="678" width="38.2" height="4.0" fill="#f89b9e" shape-rendering="crispEdges"/>
<rect x="121.8" y="682" width="38.2" height="4.0" fill="#f67f82" shape-rendering="crispEdges"/>
<rect x="121.8" y="686" width="38.2" height="4.0" fill="#fbc6c8" shape-rendering="crispEdges"/>
<rect x="121.8" y="690" width="38.2" height="4.0" fill="#fcd4d5" shape-rendering="crispEdges"/>
<rect x="121.8" y="694" width="38.2" height="4.0" fill="#fbc6c8" shape-rendering="crispEdges"/>
<rect x="121.8" y="698" width="38.2" height="3.0" fill="#fcd4d5" shape-rendering="crispEdges"/>
<rect x="121.8" y="701" width="38.2" height="4.0" fill="#fde8e9" shape-rendering="crispEdges"/>
<rect x="121.8" y="705" width="38.2" height="3.0" fill="#fcd4d5" shape-rendering="crispEdges"/>
<rect x="121.8" y="708" width="38.2" height="3.0" fill="#f67f82" shape-rendering="crispEdges"/>
<rect x="121.8" y="711" width="38.2" height="4.0" fill="#f35459" shape-rendering="crispEdges"/>
<rect x="121.8" y="715" width="38.2" height="4.0" fill="#f02a2f" shape-rendering="crispEdges"/>
<rect x="121.8" y="719" width="38.2" height="3.5" fill="#ee1218" shape-rendering="crispEdges"/>
<rect x="121.8" y="725.4" width="38.2" height="4.6" fill="#fbc6c8" shape-rendering="crispEdges"/>
<rect x="121.8" y="730" width="38.2" height="5.0" fill="#fab8ba" shape-rendering="crispEdges"/>
<rect x="121.8" y="735" width="38.2" height="5.0" fill="#f9aaac" shape-rendering="crispEdges"/>
<rect x="121.8" y="740" width="38.2" height="4.0" fill="#fab8ba" shape-rendering="crispEdges"/>
<rect x="121.8" y="744" width="38.2" height="4.0" fill="#f9aaac" shape-rendering="crispEdges"/>
<rect x="121.8" y="748" width="38.2" height="4.0" fill="#fbc6c8" shape-rendering="crispEdges"/>
<rect x="121.8" y="752" width="38.2" height="4.0" fill="#fde8e9" shape-rendering="crispEdges"/>
<rect x="121.8" y="756" width="38.2" height="3.0" fill="#fcd4d5" shape-rendering="crispEdges"/>
<rect x="121.8" y="759" width="38.2" height="4.0" fill="#fbc6c8" shape-rendering="crispEdges"/>
<rect x="121.8" y="763" width="38.2" height="4.0" fill="#fab8ba" shape-rendering="crispEdges"/>
<rect x="121.8" y="767" width="38.2" height="4.0" fill="#fcd4d5" shape-rendering="crispEdges"/>
<rect x="121.8" y="771" width="38.2" height="3.0" fill="#fde3e3" shape-rendering="crispEdges"/>
<rect x="121.8" y="774" width="38.2" height="4.0" fill="#fde3e3" shape-rendering="crispEdges"/>
<rect x="121.8" y="778" width="38.2" height="4.0" fill="#fcd4d5" shape-rendering="crispEdges"/>
<rect x="121.8" y="782" width="38.2" height="4.0" fill="#fbc6c8" shape-rendering="crispEdges"/>
<rect x="121.8" y="786" width="38.2" height="4.0" fill="#fde3e3" shape-rendering="crispEdges"/>
<rect x="121.8" y="790" width="38.2" height="4.0" fill="#fef1f1" shape-rendering="crispEdges"/>
<rect x="121.8" y="794" width="38.2" height="4.0" fill="#f78d90" shape-rendering="crispEdges"/>
<rect x="121.8" y="798" width="38.2" height="4.0" fill="#f89b9e" shape-rendering="crispEdges"/>
<rect x="121.8" y="802" width="38.2" height="3.0" fill="#fab8ba" shape-rendering="crispEdges"/>
<rect x="121.8" y="805" width="38.2" height="3.0" fill="#f9aaac" shape-rendering="crispEdges"/>
<rect x="121.8" y="808" width="38.2" height="4.0" fill="#f78d90" shape-rendering="crispEdges"/>
<rect x="121.8" y="812" width="38.2" height="4.0" fill="#fdddde" shape-rendering="crispEdges"/>
<rect x="121.8" y="816" width="38.2" height="3.5" fill="#ced1f8" shape-rendering="crispEdges"/>
<rect x="121.8" y="825.2" width="38.2" height="4.8" fill="#fbc6c8" shape-rendering="crispEdges"/>
<rect x="121.8" y="830" width="38.2" height="4.0" fill="#fcd4d5" shape-rendering="crispEdges"/>
<rect x="121.8" y="834" width="38.2" height="4.0" fill="#fbc6c8" shape-rendering="crispEdges"/>
<rect x="121.8" y="838" width="38.2" height="4.0" fill="#fcd4d5" shape-rendering="crispEdges"/>
<rect x="121.8" y="842" width="38.2" height="4.0" fill="#fde3e3" shape-rendering="crispEdges"/>
<rect x="121.8" y="846" width="38.2" height="4.0" fill="#fcd4d5" shape-rendering="crispEdges"/>
<rect x="121.8" y="850" width="38.2" height="3.0" fill="#fde3e3" shape-rendering="crispEdges"/>
<rect x="121.8" y="853" width="38.2" height="4.0" fill="#fde8e9" shape-rendering="crispEdges"/>
<rect x="121.8" y="857" width="38.2" height="3.0" fill="#fef6f7" shape-rendering="crispEdges"/>
<rect x="121.8" y="860" width="38.2" height="4.0" fill="#fcd4d5" shape-rendering="crispEdges"/>
<rect x="121.8" y="864" width="38.2" height="4.0" fill="#fbc6c8" shape-rendering="crispEdges"/>
<rect x="121.8" y="868" width="38.2" height="2.0" fill="#fcd4d5" shape-rendering="crispEdges"/>
<rect x="121.8" y="870" width="38.2" height="4.0" fill="#fab8ba" shape-rendering="crispEdges"/>
<rect x="121.8" y="874" width="38.2" height="4.0" fill="#f89b9e" shape-rendering="crispEdges"/>
<rect x="121.8" y="878" width="38.2" height="4.0" fill="#f9aaac" shape-rendering="crispEdges"/>
<rect x="121.8" y="882" width="38.2" height="4.0" fill="#f89b9e" shape-rendering="crispEdges"/>
<rect x="121.8" y="886" width="38.2" height="4.0" fill="#fbc6c8" shape-rendering="crispEdges"/>
<rect x="121.8" y="890" width="38.2" height="3.0" fill="#fcd4d5" shape-rendering="crispEdges"/>
<rect x="121.8" y="893" width="38.2" height="4.0" fill="#f4f4fd" shape-rendering="crispEdges"/>
<rect x="121.8" y="897" width="38.2" height="4.0" fill="#e9eafc" shape-rendering="crispEdges"/>
<rect x="121.8" y="901" width="38.2" height="3.0" fill="#ffffff" shape-rendering="crispEdges"/>
<rect x="121.8" y="904" width="38.2" height="3.0" fill="#b1b5f4" shape-rendering="crispEdges"/>
<rect x="121.8" y="907" width="38.2" height="3.0" fill="#a5abf3" shape-rendering="crispEdges"/>
<rect x="121.8" y="910" width="38.2" height="3.0" fill="#bcc0f6" shape-rendering="crispEdges"/>
<rect x="121.8" y="913" width="38.2" height="3.0" fill="#9aa0f1" shape-rendering="crispEdges"/>
<rect x="121.8" y="916" width="38.2" height="4.3" fill="#f78d90" shape-rendering="crispEdges"/>
<line x1="163.3" y1="726" x2="163.3" y2="819.4" stroke="#000" stroke-width="2" />
<line x1="163.3" y1="825.3" x2="163.3" y2="919.5" stroke="#000" stroke-width="2" />
<text x="168.5" y="769.4" font-size="10.5" fill="#000" font-weight="bold" textLength="30.5" lengthAdjust="spacingAndGlyphs" stroke="#000" stroke-width="0.45" >cRel-</text>
<text x="168.5" y="783.7" font-size="10.5" fill="#000" font-weight="bold" textLength="63.5" lengthAdjust="spacingAndGlyphs" stroke="#000" stroke-width="0.45" >dependent</text>
<text x="168.5" y="869.4" font-size="10.5" fill="#000" font-weight="bold" textLength="62.5" lengthAdjust="spacingAndGlyphs" stroke="#000" stroke-width="0.45" >cRel/RelB-</text>
<text x="168.5" y="884" font-size="10.5" fill="#000" font-weight="bold" textLength="63.5" lengthAdjust="spacingAndGlyphs" stroke="#000" stroke-width="0.45" >dependent</text>
<rect x="8.20" y="925.8" width="8.06" height="8.2" fill="#4a55e6"/>
<rect x="15.96" y="925.8" width="8.06" height="8.2" fill="#666fea"/>
<rect x="23.72" y="925.8" width="8.06" height="8.2" fill="#8189ee"/>
<rect x="31.48" y="925.8" width="8.06" height="8.2" fill="#9ca2f1"/>
<rect x="39.24" y="925.8" width="8.06" height="8.2" fill="#b6baf5"/>
<rect x="47.00" y="925.8" width="8.06" height="8.2" fill="#cfd2f8"/>
<rect x="54.76" y="925.8" width="8.06" height="8.2" fill="#e7e9fc"/>
<rect x="62.52" y="925.8" width="8.06" height="8.2" fill="#fdfdff"/>
<rect x="70.28" y="925.8" width="8.06" height="8.2" fill="#fde3e3"/>
<rect x="78.04" y="925.8" width="8.06" height="8.2" fill="#fbcbcc"/>
<rect x="85.80" y="925.8" width="8.06" height="8.2" fill="#fab5b7"/>
<rect x="93.56" y="925.8" width="8.06" height="8.2" fill="#f8a1a4"/>
<rect x="101.32" y="925.8" width="8.06" height="8.2" fill="#f78f91"/>
<rect x="109.08" y="925.8" width="8.06" height="8.2" fill="#f67c80"/>
<rect x="116.84" y="925.8" width="8.06" height="8.2" fill="#f46b6f"/>
<rect x="124.60" y="925.8" width="8.06" height="8.2" fill="#f35a5e"/>
<rect x="132.36" y="925.8" width="8.06" height="8.2" fill="#f2494e"/>
<rect x="140.12" y="925.8" width="8.06" height="8.2" fill="#f1393e"/>
<rect x="147.88" y="925.8" width="8.06" height="8.2" fill="#f0292f"/>
<rect x="155.64" y="925.8" width="8.06" height="8.2" fill="#ef1a1f"/>
<rect x="8.2" y="925.8" width="155.20000000000002" height="8.2" fill="none" stroke="#777" stroke-width="0.7" />
<line x1="36" y1="934" x2="36" y2="935.5" stroke="#555" stroke-width="0.6" />
<text x="36" y="943.5" font-size="6.5" fill="#333" font-weight="bold" text-anchor="middle" stroke="#333" stroke-width="0.45" >-2</text>
<line x1="67" y1="934" x2="67" y2="935.5" stroke="#555" stroke-width="0.6" />
<text x="67" y="943.5" font-size="6.5" fill="#333" font-weight="bold" text-anchor="middle" stroke="#333" stroke-width="0.45" >0</text>
<line x1="98.7" y1="934" x2="98.7" y2="935.5" stroke="#555" stroke-width="0.6" />
<text x="98.7" y="943.5" font-size="6.5" fill="#333" font-weight="bold" text-anchor="middle" stroke="#333" stroke-width="0.45" >2</text>
<line x1="131.4" y1="934" x2="131.4" y2="935.5" stroke="#555" stroke-width="0.6" />
<text x="131.4" y="943.5" font-size="6.5" fill="#333" font-weight="bold" text-anchor="middle" stroke="#333" stroke-width="0.45" >4</text>
<line x1="162.4" y1="934" x2="162.4" y2="935.5" stroke="#555" stroke-width="0.6" />
<text x="162.4" y="943.5" font-size="6.5" fill="#333" font-weight="bold" text-anchor="middle" stroke="#333" stroke-width="0.45" >6</text>
<text x="229.5" y="574" font-size="16.5" fill="#000" font-weight="bold" stroke="#000" stroke-width="0.45" >D</text>
<text transform="translate(256.5,644) rotate(-56)" font-size="14.5" font-weight="bold" stroke="#000" stroke-width="0.45" textLength="35" lengthAdjust="spacingAndGlyphs">cRel-</text>
<text transform="translate(269,652.5) rotate(-56)" font-size="14.5" font-weight="bold" stroke="#000" stroke-width="0.45" textLength="70" lengthAdjust="spacingAndGlyphs">dependent</text>
<text transform="translate(300.5,643) rotate(-56)" font-size="14.5" font-weight="bold" stroke="#000" stroke-width="0.45" textLength="65" lengthAdjust="spacingAndGlyphs">cRel/RelB-</text>
<text transform="translate(313.5,651) rotate(-56)" font-size="14.5" font-weight="bold" stroke="#000" stroke-width="0.45" textLength="70" lengthAdjust="spacingAndGlyphs">dependent</text>
<rect x="249.6" y="656.70" width="37.1" height="12.30" fill="#c6d8ea"/>
<rect x="286.7" y="656.70" width="37" height="12.30" fill="#ffffff"/>
<text x="326.3" y="664.2" font-size="9.4" fill="#000" font-weight="bold" textLength="103.8" lengthAdjust="spacingAndGlyphs" stroke="#000" stroke-width="0.45" >developmental maturation</text>
<rect x="249.6" y="668.80" width="37.1" height="12.30" fill="#c8d9eb"/>
<rect x="286.7" y="668.80" width="37" height="12.30" fill="#ffffff"/>
<text x="326.3" y="676.3000000000001" font-size="9.4" fill="#000" font-weight="bold" textLength="128.3" lengthAdjust="spacingAndGlyphs" stroke="#000" stroke-width="0.45" >negative regulation of apoptosis</text>
<rect x="249.6" y="680.90" width="37.1" height="12.30" fill="#c8d9eb"/>
<rect x="286.7" y="680.90" width="37" height="12.30" fill="#ffffff"/>
<text x="326.3" y="688.4000000000001" font-size="9.4" fill="#000" font-weight="bold" textLength="180.7" lengthAdjust="spacingAndGlyphs" stroke="#000" stroke-width="0.45" >negative regulation of programmed cell death</text>
<rect x="249.6" y="693.00" width="37.1" height="12.30" fill="#c8d9eb"/>
<rect x="286.7" y="693.00" width="37" height="12.30" fill="#ffffff"/>
<text x="326.3" y="700.5" font-size="9.4" fill="#000" font-weight="bold" textLength="127.4" lengthAdjust="spacingAndGlyphs" stroke="#000" stroke-width="0.45" >negative regulation of cell death</text>
<rect x="249.6" y="705.10" width="37.1" height="12.30" fill="#c9daeb"/>
<rect x="286.7" y="705.10" width="37" height="12.30" fill="#ffffff"/>
<text x="326.3" y="712.6" font-size="9.4" fill="#000" font-weight="bold" textLength="163.6" lengthAdjust="spacingAndGlyphs" stroke="#000" stroke-width="0.45" >negative regulation of molecular function</text>
<rect x="249.6" y="717.20" width="37.1" height="12.30" fill="#c9daeb"/>
<rect x="286.7" y="717.20" width="37" height="12.30" fill="#f1f5fa"/>
<text x="326.3" y="724.7" font-size="9.4" fill="#000" font-weight="bold" textLength="151.5" lengthAdjust="spacingAndGlyphs" stroke="#000" stroke-width="0.45" >positive regulation of cell proliferation</text>
<rect x="249.6" y="729.30" width="37.1" height="12.30" fill="#ffffff"/>
<rect x="286.7" y="729.30" width="37" height="12.30" fill="#8fb2d9"/>
<text x="326.3" y="736.8000000000001" font-size="9.4" fill="#000" font-weight="bold" textLength="115.9" lengthAdjust="spacingAndGlyphs" stroke="#000" stroke-width="0.45" >coenzyme metabolic process</text>
<rect x="249.6" y="741.40" width="37.1" height="12.30" fill="#ffffff"/>
<rect x="286.7" y="741.40" width="37" height="12.30" fill="#8fb2d9"/>
<text x="326.3" y="748.9000000000001" font-size="9.4" fill="#000" font-weight="bold" textLength="191.9" lengthAdjust="spacingAndGlyphs" stroke="#000" stroke-width="0.45" >cellular amino acid derivative metabolic process</text>
<rect x="249.6" y="753.50" width="37.1" height="12.30" fill="#ffffff"/>
<rect x="286.7" y="753.50" width="37" height="12.30" fill="#8db1d8"/>
<text x="326.3" y="761.0" font-size="9.4" fill="#000" font-weight="bold" textLength="105.2" lengthAdjust="spacingAndGlyphs" stroke="#000" stroke-width="0.45" >peptide metabolic process</text>
<rect x="249.6" y="765.60" width="37.1" height="12.30" fill="#ffffff"/>
<rect x="286.7" y="765.60" width="37" height="12.30" fill="#8cb0d8"/>
<text x="326.3" y="773.1" font-size="9.4" fill="#000" font-weight="bold" textLength="108.4" lengthAdjust="spacingAndGlyphs" stroke="#000" stroke-width="0.45" >cofactor metabolic process</text>
<rect x="249.6" y="777.70" width="37.1" height="12.30" fill="#ffffff"/>
<rect x="286.7" y="777.70" width="37" height="12.30" fill="#7aa2c9"/>
<text x="326.3" y="785.2" font-size="9.4" fill="#000" font-weight="bold" textLength="120.5" lengthAdjust="spacingAndGlyphs" stroke="#000" stroke-width="0.45" >glutathione metabolic process</text>
<rect x="249.6" y="789.80" width="37.1" height="12.30" fill="#dde6f1"/>
<rect x="286.7" y="789.80" width="37" height="12.30" fill="#437bb6"/>
<text x="326.3" y="797.3000000000001" font-size="9.4" fill="#000" font-weight="bold" textLength="189.5" lengthAdjust="spacingAndGlyphs" stroke="#000" stroke-width="0.45" >generation of precursor metabolites and energy</text>
<rect x="249.6" y="801.90" width="37.1" height="12.30" fill="#eef2f8"/>
<rect x="286.7" y="801.90" width="37" height="12.30" fill="#477eb7"/>
<text x="326.3" y="809.4000000000001" font-size="9.4" fill="#000" font-weight="bold" textLength="141.8" lengthAdjust="spacingAndGlyphs" stroke="#000" stroke-width="0.45" >monosaccharide metabolic process</text>
<rect x="249.6" y="814.00" width="37.1" height="12.30" fill="#eef2f8"/>
<rect x="286.7" y="814.00" width="37" height="12.30" fill="#477eb7"/>
<text x="326.3" y="821.5" font-size="9.4" fill="#000" font-weight="bold" textLength="107.1" lengthAdjust="spacingAndGlyphs" stroke="#000" stroke-width="0.45" >glucose metabolic process</text>
<rect x="249.6" y="826.10" width="37.1" height="12.30" fill="#eef2f8"/>
<rect x="286.7" y="826.10" width="37" height="12.30" fill="#477eb7"/>
<text x="326.3" y="833.6" font-size="9.4" fill="#000" font-weight="bold" textLength="104.3" lengthAdjust="spacingAndGlyphs" stroke="#000" stroke-width="0.45" >hexose metabolic process</text>
<rect x="249.6" y="838.20" width="37.1" height="12.30" fill="#e2e9f3"/>
<rect x="286.7" y="838.20" width="37" height="12.30" fill="#477eb7"/>
<text x="326.3" y="845.7" font-size="9.4" fill="#000" font-weight="bold" textLength="102.0" lengthAdjust="spacingAndGlyphs" stroke="#000" stroke-width="0.45" >alcohol catabolic process</text>
<rect x="249.6" y="850.30" width="37.1" height="12.30" fill="#e2e9f3"/>
<rect x="286.7" y="850.30" width="37" height="12.30" fill="#477eb7"/>
<text x="326.3" y="857.8000000000001" font-size="9.4" fill="#000" font-weight="bold" textLength="157.1" lengthAdjust="spacingAndGlyphs" stroke="#000" stroke-width="0.45" >cellular carbohydrate catabolic process</text>
<rect x="249.6" y="862.40" width="37.1" height="12.30" fill="#e2e9f3"/>
<rect x="286.7" y="862.40" width="37" height="12.30" fill="#477eb7"/>
<text x="326.3" y="869.9000000000001" font-size="9.4" fill="#000" font-weight="bold" textLength="125.6" lengthAdjust="spacingAndGlyphs" stroke="#000" stroke-width="0.45" >carbohydrate catabolic process</text>
<rect x="249.6" y="874.50" width="37.1" height="12.30" fill="#e5ecf5"/>
<rect x="286.7" y="874.50" width="37" height="12.30" fill="#477eb7"/>
<text x="326.3" y="882.0" font-size="9.4" fill="#000" font-weight="bold" textLength="139.0" lengthAdjust="spacingAndGlyphs" stroke="#000" stroke-width="0.45" >monosaccharide catabolic process</text>
<rect x="249.6" y="886.60" width="37.1" height="12.30" fill="#e5ecf5"/>
<rect x="286.7" y="886.60" width="37" height="12.30" fill="#4880b8"/>
<text x="326.3" y="894.1" font-size="9.4" fill="#000" font-weight="bold" textLength="101.5" lengthAdjust="spacingAndGlyphs" stroke="#000" stroke-width="0.45" >hexose catabolic process</text>
<rect x="249.6" y="898.70" width="37.1" height="12.30" fill="#e2e9f3"/>
<rect x="286.7" y="898.70" width="37" height="12.30" fill="#477eb7"/>
<text x="326.3" y="906.2" font-size="9.4" fill="#000" font-weight="bold" textLength="104.3" lengthAdjust="spacingAndGlyphs" stroke="#000" stroke-width="0.45" >glucose catabolic process</text>
<rect x="249.6" y="910.80" width="37.1" height="12.30" fill="#e2e9f3"/>
<rect x="286.7" y="910.80" width="37" height="12.30" fill="#477eb7"/>
<text x="326.3" y="918.3000000000001" font-size="9.4" fill="#000" font-weight="bold" textLength="40.3" lengthAdjust="spacingAndGlyphs" stroke="#000" stroke-width="0.45" >glycolysis</text>
<defs><linearGradient id="lg" x1="0" x2="1" y1="0" y2="0"><stop offset="0" stop-color="#eceef5"/><stop offset="0.2" stop-color="#cfdcea"/><stop offset="0.5" stop-color="#98b8d5"/><stop offset="0.8" stop-color="#6c9ec8"/><stop offset="1" stop-color="#4886b8"/></linearGradient></defs>
<rect x="449.5" y="575.8" width="53.9" height="32.4" fill="url(#lg)" stroke="none" stroke-width="1" />
<path d="M450.5,607.5 V602 H452.5 V596.5 H455 V600 H457.5 V596 H460 V604 H462 V607.5" stroke="#8fe3ea" stroke-width="0.9" fill="none" opacity="0.8"/>
<line x1="449.5" y1="608.2" x2="503.4" y2="608.2" stroke="#666" stroke-width="0.6" />
<line x1="449.5" y1="575.8" x2="449.5" y2="608.2" stroke="#666" stroke-width="0.6" />
<line x1="449.5" y1="608.2" x2="449.5" y2="610" stroke="#666" stroke-width="0.6" />
<text x="449.5" y="620.2" font-size="7" fill="#222" text-anchor="middle" >0</text>
<line x1="467" y1="608.2" x2="467" y2="610" stroke="#666" stroke-width="0.6" />
<text x="467" y="620.2" font-size="7" fill="#222" text-anchor="middle" >5</text>
<line x1="485.4" y1="608.2" x2="485.4" y2="610" stroke="#666" stroke-width="0.6" />
<text x="485.4" y="620.2" font-size="7" fill="#222" text-anchor="middle" >10</text>
<line x1="503" y1="608.2" x2="503" y2="610" stroke="#666" stroke-width="0.6" />
<text x="503" y="620.2" font-size="7" fill="#222" text-anchor="middle" >15</text>
<line x1="447.6" y1="607.9" x2="449.5" y2="607.9" stroke="#666" stroke-width="0.6" />
<line x1="447.6" y1="602.5" x2="449.5" y2="602.5" stroke="#666" stroke-width="0.6" />
<line x1="447.6" y1="597.1" x2="449.5" y2="597.1" stroke="#666" stroke-width="0.6" />
<line x1="447.6" y1="591.6999999999999" x2="449.5" y2="591.6999999999999" stroke="#666" stroke-width="0.6" />
<line x1="447.6" y1="586.3" x2="449.5" y2="586.3" stroke="#666" stroke-width="0.6" />
<line x1="447.6" y1="580.9" x2="449.5" y2="580.9" stroke="#666" stroke-width="0.6" />
<text transform="translate(444.5,608.1) rotate(-90)" font-size="6" text-anchor="middle" fill="#222">0</text>
<text transform="translate(444.5,597.3000000000001) rotate(-90)" font-size="6" text-anchor="middle" fill="#222">4</text>
<text transform="translate(444.5,586.5) rotate(-90)" font-size="6" text-anchor="middle" fill="#222">8</text>
<text transform="translate(435.6,607) rotate(-90)" font-size="10.5" font-weight="bold" stroke="#000" stroke-width="0.45" textLength="27" lengthAdjust="spacingAndGlyphs">count</text>
<text x="440.2" y="631.5" font-size="10" fill="#000" font-weight="bold" textLength="65.4" lengthAdjust="spacingAndGlyphs" stroke="#000" stroke-width="0.45" >-log2 (p-value)</text>
<text x="7" y="974.2" font-size="16.5" fill="#000" font-weight="bold" stroke="#000" stroke-width="0.45" >E</text>
<rect x="7.6" y="991.8" width="509.6" height="29.1" fill="none" stroke="#000" stroke-width="1.3" />
<line x1="7.6" y1="1006.2" x2="517.2" y2="1006.2" stroke="#000" stroke-width="1.3" />
<line x1="166.3" y1="991.8" x2="166.3" y2="1020.9" stroke="#000" stroke-width="1.3" />
<text x="13" y="1003.4" font-size="9.6" fill="#000" font-weight="bold" textLength="147.8" lengthAdjust="spacingAndGlyphs" stroke="#000" stroke-width="0.45" >Negative regulation of cell death</text>
<text x="86.5" y="1018.3" font-size="9.6" fill="#000" font-weight="bold" text-anchor="middle" textLength="83.5" lengthAdjust="spacingAndGlyphs" stroke="#000" stroke-width="0.45" >Metabolic process</text>
<text x="170" y="1003.5" font-size="10.6" fill="#000" textLength="173.6" lengthAdjust="spacingAndGlyphs" >Vegfa, Bcl2l1, Cdkn1a, Rag1, Bcl2a1</text>
<text x="170" y="1018.5" font-size="10.6" fill="#000" textLength="268" lengthAdjust="spacingAndGlyphs" >Pfkl, Pgam1, Tpi1, Aldoc, Hk2, Ldha, Pgk1, Pfkm, Gapdh</text>
</svg>
</body></html>
